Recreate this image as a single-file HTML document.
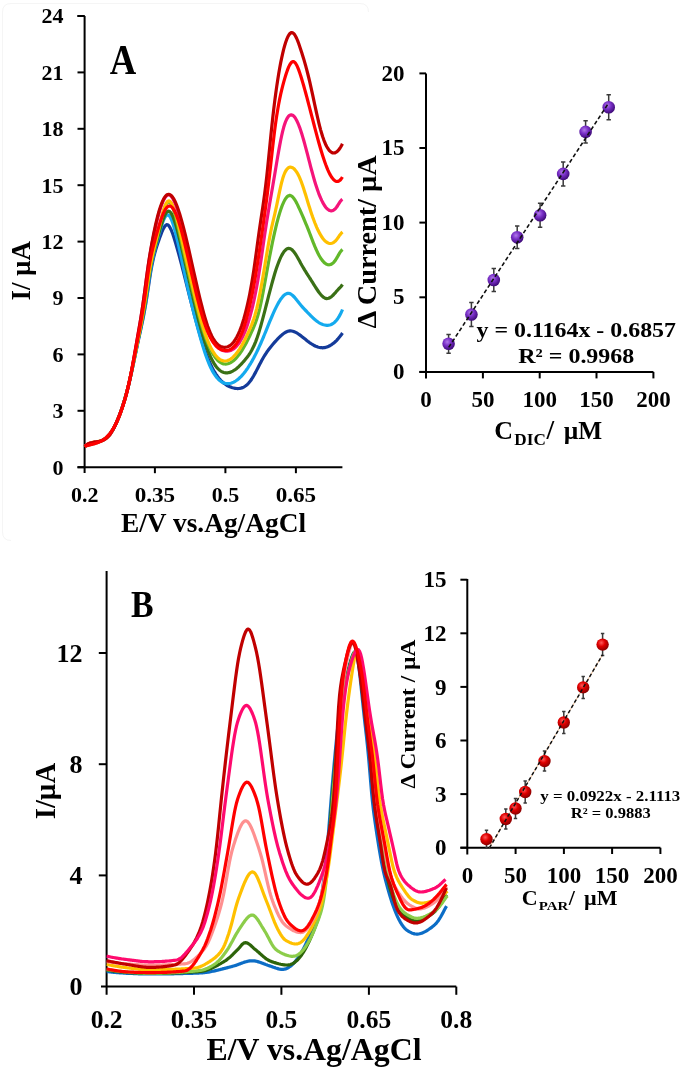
<!DOCTYPE html>
<html><head><meta charset="utf-8"><title>Figure</title>
<style>html,body{margin:0;padding:0;background:#fff;width:685px;height:1073px;overflow:hidden}svg{display:block;filter:blur(0.45px)}</style>
</head><body>
<svg width="685" height="1073" viewBox="0 0 685 1073">
<defs>
<radialGradient id="gp" cx="0.4" cy="0.35" r="0.65"><stop offset="0" stop-color="#b07ae8"/><stop offset="0.45" stop-color="#7a30c8"/><stop offset="1" stop-color="#3e0a78"/></radialGradient>
<radialGradient id="gr" cx="0.4" cy="0.35" r="0.65"><stop offset="0" stop-color="#ff5a5a"/><stop offset="0.45" stop-color="#e00000"/><stop offset="1" stop-color="#8a0000"/></radialGradient>
</defs>
<rect width="685" height="1073" fill="#fff"/>
<path d="M11 540.5Q2.5 540.5 2.5 532V12Q2.5 3.5 11 3.5H360Q368.5 3.5 368.5 12" fill="none" stroke="#f5f5f5" stroke-width="1"/>
<g stroke="#000" stroke-width="2" fill="none"><path d="M84.6 16V473M77.5 16H84.6" /><path d="M77.5 16.0H84.6"/><path d="M77.5 72.4H84.6"/><path d="M77.5 128.8H84.6"/><path d="M77.5 185.2H84.6"/><path d="M77.5 241.6H84.6"/><path d="M77.5 298.0H84.6"/><path d="M77.5 354.4H84.6"/><path d="M77.5 410.8H84.6"/><path d="M77.5 467.2H84.6"/><path d="M77.5 467.2H342.4"/><path d="M154.9 467.2V473.2"/><path d="M225.4 467.2V473.2"/><path d="M295.9 467.2V473.2"/></g>
<g font-family="Liberation Serif, serif" font-weight="bold" fill="#000" font-size="22"><text x="63.4" y="23.3" text-anchor="end">24</text><text x="63.4" y="79.7" text-anchor="end">21</text><text x="63.4" y="136.1" text-anchor="end">18</text><text x="63.4" y="192.5" text-anchor="end">15</text><text x="63.4" y="248.9" text-anchor="end">12</text><text x="63.4" y="305.3" text-anchor="end">9</text><text x="63.4" y="361.7" text-anchor="end">6</text><text x="63.4" y="418.1" text-anchor="end">3</text><text x="63.4" y="474.5" text-anchor="end">0</text><text x="84.7" y="501.8" text-anchor="middle">0.2</text><text x="154.9" y="501.8" text-anchor="middle" textLength="40.5" lengthAdjust="spacingAndGlyphs">0.35</text><text x="225.4" y="501.8" text-anchor="middle">0.5</text><text x="295.9" y="501.8" text-anchor="middle" textLength="40.5" lengthAdjust="spacingAndGlyphs">0.65</text></g>
<text font-family="Liberation Serif, serif" font-weight="bold" fill="#000" x="109.8" y="74" font-size="43" textLength="26.5" lengthAdjust="spacingAndGlyphs">A</text>
<text font-family="Liberation Serif, serif" font-weight="bold" fill="#000" font-size="27" x="121" y="531.6" textLength="185" lengthAdjust="spacingAndGlyphs">E/V vs.Ag/AgCl</text>
<text font-family="Liberation Serif, serif" font-weight="bold" fill="#000" font-size="26.5" transform="translate(29.8 300.5) rotate(-90)" textLength="59.5" lengthAdjust="spacingAndGlyphs">I/ µA</text>
<g fill="none" stroke-width="3.2" stroke-linejoin="round" stroke-linecap="butt"><path stroke="#143b9a" d="M84.7 446.4 L85.7 445.7 L86.7 445.0 L87.7 444.5 L88.7 444.0 L89.7 443.6 L90.7 443.3 L91.7 443.0 L92.7 442.8 L93.7 442.6 L94.7 442.4 L95.7 442.2 L96.7 442.0 L97.7 441.8 L98.7 441.6 L99.7 441.3 L100.7 441.0 L101.7 440.6 L102.7 440.2 L103.7 439.7 L104.7 439.1 L105.7 438.4 L106.7 437.6 L107.7 436.7 L108.7 435.7 L109.7 434.5 L110.7 433.2 L111.7 431.7 L112.7 430.1 L113.7 428.3 L114.7 426.4 L115.7 424.3 L116.7 422.1 L117.7 419.7 L118.7 417.3 L119.7 414.6 L120.7 411.9 L121.7 409.0 L122.7 405.9 L123.7 402.8 L124.7 399.4 L125.7 395.9 L126.7 392.3 L127.7 388.5 L128.7 384.5 L129.7 380.4 L130.7 376.0 L131.7 371.6 L132.7 367.0 L133.7 362.3 L134.7 357.6 L135.7 352.8 L136.7 348.1 L137.7 343.4 L138.7 338.7 L139.7 334.2 L140.7 329.6 L141.7 324.9 L142.7 320.1 L143.7 315.1 L144.7 309.8 L145.7 304.2 L146.7 298.0 L147.7 291.5 L148.7 284.9 L149.7 278.3 L150.7 272.1 L151.7 266.5 L152.7 261.6 L153.7 257.2 L154.7 253.3 L155.7 249.8 L156.7 246.6 L157.7 243.5 L158.7 240.7 L159.7 237.8 L160.7 235.1 L161.7 232.5 L162.7 230.1 L163.7 228.1 L164.7 226.4 L165.7 225.3 L166.7 224.7 L167.7 224.8 L168.7 225.6 L169.7 227.0 L170.7 228.9 L171.7 231.2 L172.7 233.8 L173.7 236.8 L174.7 239.9 L175.7 243.2 L176.7 246.7 L177.7 250.2 L178.7 253.8 L179.7 257.5 L180.7 261.3 L181.7 265.1 L182.7 269.0 L183.7 272.9 L184.7 276.9 L185.7 280.9 L186.7 284.8 L187.7 288.8 L188.7 292.8 L189.7 296.8 L190.7 300.7 L191.7 304.6 L192.7 308.4 L193.7 312.2 L194.7 316.0 L195.7 319.7 L196.7 323.4 L197.7 326.9 L198.7 330.4 L199.7 333.9 L200.7 337.2 L201.7 340.5 L202.7 343.6 L203.7 346.7 L204.7 349.6 L205.7 352.4 L206.7 355.2 L207.7 357.7 L208.7 360.2 L209.7 362.5 L210.7 364.7 L211.7 366.8 L212.7 368.7 L213.7 370.5 L214.7 372.2 L215.7 373.8 L216.7 375.3 L217.7 376.7 L218.7 378.0 L219.7 379.2 L220.7 380.3 L221.7 381.3 L222.7 382.2 L223.7 383.1 L224.7 383.8 L225.7 384.5 L226.7 385.2 L227.7 385.7 L228.7 386.3 L229.7 386.7 L230.7 387.1 L231.7 387.5 L232.7 387.8 L233.7 388.0 L234.7 388.3 L235.7 388.4 L236.7 388.5 L237.7 388.6 L238.7 388.5 L239.7 388.4 L240.7 388.2 L241.7 387.9 L242.7 387.6 L243.7 387.1 L244.7 386.5 L245.7 385.8 L246.7 385.0 L247.7 384.1 L248.7 383.0 L249.7 381.8 L250.7 380.5 L251.7 379.0 L252.7 377.4 L253.7 375.7 L254.7 373.9 L255.7 372.1 L256.7 370.1 L257.7 368.2 L258.7 366.2 L259.7 364.3 L260.7 362.4 L261.7 360.5 L262.7 358.7 L263.7 357.0 L264.7 355.4 L265.7 353.8 L266.7 352.3 L267.7 350.9 L268.7 349.5 L269.7 348.2 L270.7 346.9 L271.7 345.7 L272.7 344.5 L273.7 343.3 L274.7 342.2 L275.7 341.1 L276.7 340.0 L277.7 338.9 L278.7 337.9 L279.7 336.9 L280.7 336.0 L281.7 335.1 L282.7 334.2 L283.7 333.5 L284.7 332.8 L285.7 332.2 L286.7 331.7 L287.7 331.3 L288.7 331.1 L289.7 330.9 L290.7 330.9 L291.7 331.0 L292.7 331.2 L293.7 331.5 L294.7 331.9 L295.7 332.4 L296.7 332.9 L297.7 333.5 L298.7 334.2 L299.7 334.9 L300.7 335.6 L301.7 336.4 L302.7 337.2 L303.7 338.0 L304.7 338.8 L305.7 339.6 L306.7 340.4 L307.7 341.2 L308.7 341.9 L309.7 342.7 L310.7 343.4 L311.7 344.0 L312.7 344.6 L313.7 345.2 L314.7 345.7 L315.7 346.2 L316.7 346.6 L317.7 347.0 L318.7 347.3 L319.7 347.5 L320.7 347.7 L321.7 347.7 L322.7 347.8 L323.7 347.7 L324.7 347.6 L325.7 347.3 L326.7 347.1 L327.7 346.7 L328.7 346.3 L329.7 345.8 L330.7 345.2 L331.7 344.6 L332.7 343.8 L333.7 343.1 L334.7 342.2 L335.7 341.3 L336.7 340.3 L337.7 339.2 L338.7 338.0 L339.7 336.8 L340.7 335.5 L341.7 334.2 L342.5 333.0"/><path stroke="#14aaee" d="M84.7 446.4 L85.7 445.6 L86.7 445.0 L87.7 444.4 L88.7 444.0 L89.7 443.6 L90.7 443.2 L91.7 443.0 L92.7 442.7 L93.7 442.5 L94.7 442.3 L95.7 442.1 L96.7 442.0 L97.7 441.8 L98.7 441.5 L99.7 441.3 L100.7 441.0 L101.7 440.6 L102.7 440.2 L103.7 439.7 L104.7 439.1 L105.7 438.5 L106.7 437.7 L107.7 436.8 L108.7 435.7 L109.7 434.5 L110.7 433.2 L111.7 431.7 L112.7 430.1 L113.7 428.3 L114.7 426.3 L115.7 424.3 L116.7 422.0 L117.7 419.7 L118.7 417.2 L119.7 414.6 L120.7 411.9 L121.7 409.0 L122.7 406.0 L123.7 402.8 L124.7 399.5 L125.7 396.0 L126.7 392.4 L127.7 388.6 L128.7 384.6 L129.7 380.3 L130.7 375.9 L131.7 371.4 L132.7 366.7 L133.7 361.9 L134.7 357.0 L135.7 352.1 L136.7 347.3 L137.7 342.4 L138.7 337.7 L139.7 333.1 L140.7 328.4 L141.7 323.6 L142.7 318.7 L143.7 313.5 L144.7 307.9 L145.7 302.0 L146.7 295.5 L147.7 288.7 L148.7 281.8 L149.7 275.2 L150.7 269.0 L151.7 263.5 L152.7 258.7 L153.7 254.2 L154.7 250.2 L155.7 246.4 L156.7 242.8 L157.7 239.2 L158.7 235.6 L159.7 232.0 L160.7 228.6 L161.7 225.4 L162.7 222.4 L163.7 219.8 L164.7 217.7 L165.7 216.1 L166.7 215.1 L167.7 214.8 L168.7 215.2 L169.7 216.3 L170.7 218.0 L171.7 220.2 L172.7 223.0 L173.7 226.1 L174.7 229.6 L175.7 233.4 L176.7 237.5 L177.7 241.7 L178.7 246.0 L179.7 250.5 L180.7 255.0 L181.7 259.6 L182.7 264.3 L183.7 268.9 L184.7 273.6 L185.7 278.2 L186.7 282.8 L187.7 287.3 L188.7 291.8 L189.7 296.1 L190.7 300.3 L191.7 304.5 L192.7 308.6 L193.7 312.6 L194.7 316.5 L195.7 320.3 L196.7 324.1 L197.7 327.9 L198.7 331.5 L199.7 335.1 L200.7 338.7 L201.7 342.1 L202.7 345.5 L203.7 348.8 L204.7 351.9 L205.7 354.9 L206.7 357.7 L207.7 360.4 L208.7 362.9 L209.7 365.3 L210.7 367.5 L211.7 369.5 L212.7 371.4 L213.7 373.1 L214.7 374.6 L215.7 376.1 L216.7 377.4 L217.7 378.5 L218.7 379.6 L219.7 380.5 L220.7 381.2 L221.7 381.9 L222.7 382.5 L223.7 382.9 L224.7 383.2 L225.7 383.5 L226.7 383.6 L227.7 383.7 L228.7 383.6 L229.7 383.5 L230.7 383.3 L231.7 383.0 L232.7 382.6 L233.7 382.2 L234.7 381.6 L235.7 381.0 L236.7 380.3 L237.7 379.6 L238.7 378.7 L239.7 377.8 L240.7 376.9 L241.7 375.8 L242.7 374.7 L243.7 373.5 L244.7 372.2 L245.7 370.9 L246.7 369.5 L247.7 368.1 L248.7 366.5 L249.7 364.9 L250.7 363.3 L251.7 361.6 L252.7 359.8 L253.7 358.0 L254.7 356.1 L255.7 354.1 L256.7 352.1 L257.7 350.0 L258.7 347.9 L259.7 345.7 L260.7 343.5 L261.7 341.2 L262.7 338.8 L263.7 336.5 L264.7 334.0 L265.7 331.6 L266.7 329.1 L267.7 326.7 L268.7 324.2 L269.7 321.7 L270.7 319.3 L271.7 317.0 L272.7 314.6 L273.7 312.4 L274.7 310.2 L275.7 308.1 L276.7 306.1 L277.7 304.2 L278.7 302.4 L279.7 300.8 L280.7 299.2 L281.7 297.9 L282.7 296.7 L283.7 295.6 L284.7 294.8 L285.7 294.1 L286.7 293.6 L287.7 293.4 L288.7 293.4 L289.7 293.6 L290.7 294.0 L291.7 294.7 L292.7 295.5 L293.7 296.5 L294.7 297.5 L295.7 298.7 L296.7 300.0 L297.7 301.2 L298.7 302.5 L299.7 303.8 L300.7 305.0 L301.7 306.2 L302.7 307.3 L303.7 308.4 L304.7 309.5 L305.7 310.5 L306.7 311.5 L307.7 312.6 L308.7 313.6 L309.7 314.6 L310.7 315.7 L311.7 316.6 L312.7 317.6 L313.7 318.6 L314.7 319.4 L315.7 320.3 L316.7 321.1 L317.7 321.8 L318.7 322.5 L319.7 323.1 L320.7 323.6 L321.7 324.1 L322.7 324.5 L323.7 324.8 L324.7 325.0 L325.7 325.2 L326.7 325.3 L327.7 325.3 L328.7 325.2 L329.7 325.0 L330.7 324.7 L331.7 324.3 L332.7 323.7 L333.7 323.0 L334.7 322.2 L335.7 321.2 L336.7 320.0 L337.7 318.7 L338.7 317.2 L339.7 315.4 L340.7 313.5 L341.7 311.4 L342.5 309.5"/><path stroke="#3a7016" d="M84.7 446.4 L85.7 446.0 L86.7 445.6 L87.7 445.2 L88.7 444.9 L89.7 444.6 L90.7 444.4 L91.7 444.1 L92.7 443.8 L93.7 443.6 L94.7 443.3 L95.7 443.0 L96.7 442.7 L97.7 442.4 L98.7 442.0 L99.7 441.6 L100.7 441.2 L101.7 440.7 L102.7 440.1 L103.7 439.5 L104.7 438.8 L105.7 438.0 L106.7 437.1 L107.7 436.1 L108.7 435.1 L109.7 433.9 L110.7 432.6 L111.7 431.2 L112.7 429.7 L113.7 428.1 L114.7 426.3 L115.7 424.3 L116.7 422.2 L117.7 420.0 L118.7 417.6 L119.7 415.0 L120.7 412.2 L121.7 409.3 L122.7 406.2 L123.7 402.9 L124.7 399.5 L125.7 396.0 L126.7 392.3 L127.7 388.4 L128.7 384.3 L129.7 380.1 L130.7 375.6 L131.7 371.0 L132.7 366.2 L133.7 361.3 L134.7 356.4 L135.7 351.4 L136.7 346.5 L137.7 341.6 L138.7 336.8 L139.7 332.0 L140.7 327.2 L141.7 322.3 L142.7 317.1 L143.7 311.7 L144.7 305.8 L145.7 299.5 L146.7 292.6 L147.7 285.6 L148.7 278.6 L149.7 272.0 L150.7 266.1 L151.7 260.9 L152.7 256.2 L153.7 252.0 L154.7 248.2 L155.7 244.6 L156.7 241.0 L157.7 237.4 L158.7 233.8 L159.7 230.3 L160.7 226.8 L161.7 223.5 L162.7 220.5 L163.7 217.8 L164.7 215.4 L165.7 213.5 L166.7 212.1 L167.7 211.3 L168.7 211.2 L169.7 211.6 L170.7 212.6 L171.7 214.2 L172.7 216.2 L173.7 218.6 L174.7 221.4 L175.7 224.6 L176.7 228.0 L177.7 231.7 L178.7 235.6 L179.7 239.6 L180.7 243.7 L181.7 247.9 L182.7 252.2 L183.7 256.5 L184.7 260.9 L185.7 265.3 L186.7 269.7 L187.7 274.1 L188.7 278.6 L189.7 283.0 L190.7 287.4 L191.7 291.7 L192.7 296.0 L193.7 300.3 L194.7 304.5 L195.7 308.6 L196.7 312.6 L197.7 316.6 L198.7 320.5 L199.7 324.2 L200.7 327.9 L201.7 331.4 L202.7 334.8 L203.7 338.1 L204.7 341.2 L205.7 344.2 L206.7 347.1 L207.7 349.8 L208.7 352.4 L209.7 354.8 L210.7 357.1 L211.7 359.2 L212.7 361.1 L213.7 362.9 L214.7 364.5 L215.7 366.0 L216.7 367.3 L217.7 368.4 L218.7 369.4 L219.7 370.3 L220.7 371.0 L221.7 371.6 L222.7 372.1 L223.7 372.5 L224.7 372.7 L225.7 372.8 L226.7 372.9 L227.7 372.8 L228.7 372.6 L229.7 372.4 L230.7 372.1 L231.7 371.6 L232.7 371.1 L233.7 370.5 L234.7 369.9 L235.7 369.2 L236.7 368.4 L237.7 367.6 L238.7 366.7 L239.7 365.7 L240.7 364.7 L241.7 363.6 L242.7 362.5 L243.7 361.4 L244.7 360.2 L245.7 359.0 L246.7 357.8 L247.7 356.5 L248.7 355.1 L249.7 353.6 L250.7 352.0 L251.7 350.2 L252.7 348.3 L253.7 346.3 L254.7 344.0 L255.7 341.6 L256.7 338.9 L257.7 336.0 L258.7 332.9 L259.7 329.6 L260.7 326.2 L261.7 322.6 L262.7 318.9 L263.7 315.2 L264.7 311.3 L265.7 307.4 L266.7 303.5 L267.7 299.6 L268.7 295.7 L269.7 291.9 L270.7 288.1 L271.7 284.3 L272.7 280.7 L273.7 277.2 L274.7 273.8 L275.7 270.6 L276.7 267.6 L277.7 264.7 L278.7 262.1 L279.7 259.6 L280.7 257.4 L281.7 255.4 L282.7 253.6 L283.7 252.1 L284.7 250.8 L285.7 249.8 L286.7 249.0 L287.7 248.6 L288.7 248.4 L289.7 248.5 L290.7 248.9 L291.7 249.5 L292.7 250.5 L293.7 251.6 L294.7 252.9 L295.7 254.4 L296.7 256.0 L297.7 257.7 L298.7 259.5 L299.7 261.3 L300.7 263.2 L301.7 265.0 L302.7 266.7 L303.7 268.4 L304.7 270.1 L305.7 271.7 L306.7 273.3 L307.7 274.9 L308.7 276.4 L309.7 278.0 L310.7 279.5 L311.7 281.1 L312.7 282.7 L313.7 284.3 L314.7 285.9 L315.7 287.5 L316.7 289.0 L317.7 290.5 L318.7 292.0 L319.7 293.3 L320.7 294.5 L321.7 295.6 L322.7 296.6 L323.7 297.4 L324.7 298.0 L325.7 298.4 L326.7 298.6 L327.7 298.5 L328.7 298.3 L329.7 297.8 L330.7 297.2 L331.7 296.4 L332.7 295.5 L333.7 294.5 L334.7 293.4 L335.7 292.3 L336.7 291.1 L337.7 290.0 L338.7 288.9 L339.7 287.8 L340.7 286.8 L341.7 285.7 L342.5 284.5"/><path stroke="#62b82a" d="M84.7 446.4 L85.7 445.6 L86.7 445.0 L87.7 444.4 L88.7 443.9 L89.7 443.6 L90.7 443.2 L91.7 442.9 L92.7 442.7 L93.7 442.5 L94.7 442.3 L95.7 442.1 L96.7 441.9 L97.7 441.8 L98.7 441.5 L99.7 441.3 L100.7 441.0 L101.7 440.7 L102.7 440.2 L103.7 439.7 L104.7 439.2 L105.7 438.5 L106.7 437.7 L107.7 436.8 L108.7 435.7 L109.7 434.5 L110.7 433.2 L111.7 431.7 L112.7 430.1 L113.7 428.3 L114.7 426.3 L115.7 424.2 L116.7 422.0 L117.7 419.7 L118.7 417.2 L119.7 414.6 L120.7 411.9 L121.7 409.0 L122.7 406.0 L123.7 402.9 L124.7 399.6 L125.7 396.1 L126.7 392.4 L127.7 388.6 L128.7 384.5 L129.7 380.2 L130.7 375.7 L131.7 371.0 L132.7 366.2 L133.7 361.2 L134.7 356.2 L135.7 351.1 L136.7 345.9 L137.7 340.8 L138.7 335.7 L139.7 330.7 L140.7 325.5 L141.7 320.2 L142.7 314.7 L143.7 308.9 L144.7 302.8 L145.7 296.2 L146.7 289.3 L147.7 282.4 L148.7 275.8 L149.7 269.6 L150.7 264.2 L151.7 259.3 L152.7 254.8 L153.7 250.7 L154.7 246.8 L155.7 242.9 L156.7 238.9 L157.7 234.7 L158.7 230.4 L159.7 226.1 L160.7 221.9 L161.7 217.9 L162.7 214.1 L163.7 210.7 L164.7 207.7 L165.7 205.2 L166.7 203.4 L167.7 202.2 L168.7 201.8 L169.7 202.2 L170.7 203.3 L171.7 205.1 L172.7 207.4 L173.7 210.2 L174.7 213.4 L175.7 217.1 L176.7 221.0 L177.7 225.2 L178.7 229.6 L179.7 234.1 L180.7 238.6 L181.7 243.1 L182.7 247.6 L183.7 252.1 L184.7 256.5 L185.7 260.9 L186.7 265.2 L187.7 269.5 L188.7 273.8 L189.7 278.1 L190.7 282.3 L191.7 286.6 L192.7 290.8 L193.7 294.9 L194.7 299.1 L195.7 303.2 L196.7 307.2 L197.7 311.1 L198.7 315.0 L199.7 318.7 L200.7 322.3 L201.7 325.8 L202.7 329.2 L203.7 332.3 L204.7 335.3 L205.7 338.2 L206.7 340.8 L207.7 343.4 L208.7 345.7 L209.7 347.9 L210.7 350.0 L211.7 351.9 L212.7 353.6 L213.7 355.2 L214.7 356.7 L215.7 358.0 L216.7 359.2 L217.7 360.3 L218.7 361.2 L219.7 362.0 L220.7 362.6 L221.7 363.2 L222.7 363.6 L223.7 363.9 L224.7 364.0 L225.7 364.1 L226.7 364.0 L227.7 363.8 L228.7 363.5 L229.7 363.1 L230.7 362.6 L231.7 362.0 L232.7 361.3 L233.7 360.5 L234.7 359.6 L235.7 358.6 L236.7 357.5 L237.7 356.3 L238.7 355.1 L239.7 353.7 L240.7 352.3 L241.7 350.8 L242.7 349.2 L243.7 347.5 L244.7 345.8 L245.7 343.9 L246.7 342.1 L247.7 340.1 L248.7 338.1 L249.7 336.0 L250.7 333.9 L251.7 331.7 L252.7 329.5 L253.7 327.2 L254.7 324.7 L255.7 322.1 L256.7 319.2 L257.7 316.1 L258.7 312.5 L259.7 308.6 L260.7 304.2 L261.7 299.4 L262.7 294.3 L263.7 289.0 L264.7 283.5 L265.7 278.0 L266.7 272.4 L267.7 266.9 L268.7 261.5 L269.7 256.2 L270.7 251.1 L271.7 246.1 L272.7 241.2 L273.7 236.6 L274.7 232.1 L275.7 227.8 L276.7 223.7 L277.7 219.9 L278.7 216.2 L279.7 212.9 L280.7 209.7 L281.7 206.9 L282.7 204.3 L283.7 202.1 L284.7 200.1 L285.7 198.5 L286.7 197.2 L287.7 196.2 L288.7 195.7 L289.7 195.4 L290.7 195.6 L291.7 196.1 L292.7 197.0 L293.7 198.2 L294.7 199.6 L295.7 201.3 L296.7 203.1 L297.7 205.1 L298.7 207.3 L299.7 209.4 L300.7 211.7 L301.7 213.9 L302.7 216.2 L303.7 218.5 L304.7 220.9 L305.7 223.3 L306.7 225.7 L307.7 228.2 L308.7 230.7 L309.7 233.3 L310.7 235.9 L311.7 238.5 L312.7 241.1 L313.7 243.7 L314.7 246.1 L315.7 248.5 L316.7 250.7 L317.7 252.8 L318.7 254.7 L319.7 256.5 L320.7 258.2 L321.7 259.6 L322.7 260.9 L323.7 262.0 L324.7 263.0 L325.7 263.7 L326.7 264.3 L327.7 264.6 L328.7 264.8 L329.7 264.7 L330.7 264.5 L331.7 264.0 L332.7 263.3 L333.7 262.3 L334.7 261.2 L335.7 259.8 L336.7 258.1 L337.7 256.4 L338.7 254.6 L339.7 252.9 L340.7 251.4 L341.7 250.2 L342.5 249.5"/><path stroke="#ffc000" d="M84.7 446.4 L85.7 445.5 L86.7 444.8 L87.7 444.1 L88.7 443.6 L89.7 443.2 L90.7 442.8 L91.7 442.5 L92.7 442.3 L93.7 442.1 L94.7 442.0 L95.7 441.9 L96.7 441.7 L97.7 441.6 L98.7 441.4 L99.7 441.3 L100.7 441.0 L101.7 440.7 L102.7 440.4 L103.7 439.9 L104.7 439.4 L105.7 438.7 L106.7 437.9 L107.7 437.0 L108.7 435.9 L109.7 434.7 L110.7 433.3 L111.7 431.7 L112.7 430.0 L113.7 428.1 L114.7 426.1 L115.7 424.0 L116.7 421.8 L117.7 419.4 L118.7 417.0 L119.7 414.5 L120.7 411.9 L121.7 409.2 L122.7 406.3 L123.7 403.3 L124.7 400.0 L125.7 396.4 L126.7 392.6 L127.7 388.6 L128.7 384.4 L129.7 380.0 L130.7 375.4 L131.7 370.7 L132.7 365.9 L133.7 361.0 L134.7 356.0 L135.7 351.0 L136.7 345.9 L137.7 340.9 L138.7 335.8 L139.7 330.7 L140.7 325.6 L141.7 320.2 L142.7 314.7 L143.7 308.9 L144.7 302.7 L145.7 296.2 L146.7 289.4 L147.7 282.5 L148.7 275.8 L149.7 269.6 L150.7 264.0 L151.7 259.0 L152.7 254.4 L153.7 250.0 L154.7 245.9 L155.7 241.8 L156.7 237.6 L157.7 233.3 L158.7 229.0 L159.7 224.7 L160.7 220.6 L161.7 216.6 L162.7 212.9 L163.7 209.6 L164.7 206.7 L165.7 204.3 L166.7 202.5 L167.7 201.3 L168.7 200.9 L169.7 201.1 L170.7 202.0 L171.7 203.5 L172.7 205.5 L173.7 208.0 L174.7 210.9 L175.7 214.3 L176.7 217.9 L177.7 221.8 L178.7 225.9 L179.7 230.2 L180.7 234.6 L181.7 239.1 L182.7 243.5 L183.7 248.0 L184.7 252.4 L185.7 256.8 L186.7 261.2 L187.7 265.5 L188.7 269.9 L189.7 274.2 L190.7 278.5 L191.7 282.8 L192.7 287.0 L193.7 291.3 L194.7 295.5 L195.7 299.6 L196.7 303.7 L197.7 307.7 L198.7 311.6 L199.7 315.4 L200.7 319.1 L201.7 322.7 L202.7 326.1 L203.7 329.4 L204.7 332.5 L205.7 335.4 L206.7 338.1 L207.7 340.7 L208.7 343.1 L209.7 345.4 L210.7 347.5 L211.7 349.4 L212.7 351.1 L213.7 352.7 L214.7 354.2 L215.7 355.5 L216.7 356.7 L217.7 357.7 L218.7 358.6 L219.7 359.3 L220.7 359.9 L221.7 360.4 L222.7 360.7 L223.7 360.9 L224.7 361.0 L225.7 361.0 L226.7 360.8 L227.7 360.5 L228.7 360.1 L229.7 359.6 L230.7 359.0 L231.7 358.2 L232.7 357.4 L233.7 356.5 L234.7 355.4 L235.7 354.3 L236.7 353.0 L237.7 351.7 L238.7 350.3 L239.7 348.8 L240.7 347.2 L241.7 345.5 L242.7 343.7 L243.7 341.9 L244.7 340.0 L245.7 338.0 L246.7 335.9 L247.7 333.8 L248.7 331.6 L249.7 329.4 L250.7 327.0 L251.7 324.6 L252.7 321.9 L253.7 319.1 L254.7 315.9 L255.7 312.4 L256.7 308.6 L257.7 304.3 L258.7 299.6 L259.7 294.6 L260.7 289.4 L261.7 283.8 L262.7 278.1 L263.7 272.2 L264.7 266.2 L265.7 260.2 L266.7 254.2 L267.7 248.3 L268.7 242.6 L269.7 237.1 L270.7 232.0 L271.7 227.2 L272.7 222.8 L273.7 218.5 L274.7 214.3 L275.7 209.9 L276.7 205.3 L277.7 200.4 L278.7 195.6 L279.7 190.8 L280.7 186.3 L281.7 182.2 L282.7 178.6 L283.7 175.5 L284.7 173.0 L285.7 171.0 L286.7 169.5 L287.7 168.4 L288.7 167.6 L289.7 167.2 L290.7 167.2 L291.7 167.4 L292.7 167.8 L293.7 168.5 L294.7 169.5 L295.7 170.7 L296.7 172.1 L297.7 173.8 L298.7 175.7 L299.7 177.9 L300.7 180.3 L301.7 182.9 L302.7 185.8 L303.7 188.8 L304.7 191.9 L305.7 195.1 L306.7 198.4 L307.7 201.7 L308.7 204.9 L309.7 208.1 L310.7 211.2 L311.7 214.2 L312.7 217.1 L313.7 219.8 L314.7 222.5 L315.7 224.9 L316.7 227.3 L317.7 229.5 L318.7 231.5 L319.7 233.4 L320.7 235.2 L321.7 236.8 L322.7 238.2 L323.7 239.5 L324.7 240.6 L325.7 241.5 L326.7 242.3 L327.7 242.8 L328.7 243.2 L329.7 243.5 L330.7 243.5 L331.7 243.3 L332.7 243.0 L333.7 242.4 L334.7 241.6 L335.7 240.7 L336.7 239.5 L337.7 238.1 L338.7 236.7 L339.7 235.2 L340.7 233.9 L341.7 232.7 L342.5 232.0"/><path stroke="#f5147a" d="M84.7 446.4 L85.7 445.6 L86.7 444.8 L87.7 444.2 L88.7 443.7 L89.7 443.3 L90.7 443.0 L91.7 442.7 L92.7 442.5 L93.7 442.3 L94.7 442.1 L95.7 442.0 L96.7 441.8 L97.7 441.7 L98.7 441.5 L99.7 441.3 L100.7 441.0 L101.7 440.7 L102.7 440.3 L103.7 439.8 L104.7 439.3 L105.7 438.6 L106.7 437.8 L107.7 436.9 L108.7 435.9 L109.7 434.7 L110.7 433.3 L111.7 431.7 L112.7 430.0 L113.7 428.2 L114.7 426.2 L115.7 424.1 L116.7 421.9 L117.7 419.5 L118.7 417.0 L119.7 414.5 L120.7 411.8 L121.7 409.1 L122.7 406.2 L123.7 403.1 L124.7 399.9 L125.7 396.5 L126.7 392.8 L127.7 388.9 L128.7 384.6 L129.7 380.1 L130.7 375.2 L131.7 370.1 L132.7 364.7 L133.7 359.1 L134.7 353.5 L135.7 347.7 L136.7 342.0 L137.7 336.3 L138.7 330.6 L139.7 324.8 L140.7 318.9 L141.7 312.6 L142.7 306.1 L143.7 299.1 L144.7 291.6 L145.7 283.9 L146.7 276.3 L147.7 269.1 L148.7 262.5 L149.7 256.4 L150.7 250.7 L151.7 245.4 L152.7 240.3 L153.7 235.4 L154.7 230.7 L155.7 226.3 L156.7 222.0 L157.7 218.0 L158.7 214.2 L159.7 210.7 L160.7 207.5 L161.7 204.7 L162.7 202.1 L163.7 199.9 L164.7 198.1 L165.7 196.6 L166.7 195.6 L167.7 195.0 L168.7 194.8 L169.7 195.1 L170.7 195.7 L171.7 196.8 L172.7 198.3 L173.7 200.1 L174.7 202.2 L175.7 204.7 L176.7 207.4 L177.7 210.4 L178.7 213.6 L179.7 217.1 L180.7 220.7 L181.7 224.5 L182.7 228.4 L183.7 232.5 L184.7 236.6 L185.7 240.8 L186.7 245.1 L187.7 249.4 L188.7 253.8 L189.7 258.2 L190.7 262.6 L191.7 267.0 L192.7 271.4 L193.7 275.8 L194.7 280.1 L195.7 284.4 L196.7 288.7 L197.7 293.0 L198.7 297.1 L199.7 301.2 L200.7 305.2 L201.7 309.1 L202.7 312.8 L203.7 316.5 L204.7 319.9 L205.7 323.2 L206.7 326.3 L207.7 329.2 L208.7 331.9 L209.7 334.3 L210.7 336.6 L211.7 338.6 L212.7 340.5 L213.7 342.2 L214.7 343.7 L215.7 345.0 L216.7 346.2 L217.7 347.2 L218.7 348.1 L219.7 348.8 L220.7 349.5 L221.7 350.0 L222.7 350.4 L223.7 350.7 L224.7 350.9 L225.7 351.1 L226.7 351.1 L227.7 351.1 L228.7 351.0 L229.7 350.7 L230.7 350.4 L231.7 350.0 L232.7 349.4 L233.7 348.8 L234.7 348.0 L235.7 347.1 L236.7 346.0 L237.7 344.8 L238.7 343.5 L239.7 342.0 L240.7 340.3 L241.7 338.5 L242.7 336.6 L243.7 334.4 L244.7 332.1 L245.7 329.6 L246.7 326.9 L247.7 324.0 L248.7 320.8 L249.7 317.5 L250.7 313.9 L251.7 310.1 L252.7 306.0 L253.7 301.6 L254.7 296.9 L255.7 291.9 L256.7 286.7 L257.7 281.1 L258.7 275.1 L259.7 268.8 L260.7 262.2 L261.7 255.4 L262.7 248.4 L263.7 241.4 L264.7 234.6 L265.7 227.9 L266.7 221.5 L267.7 215.4 L268.7 209.4 L269.7 203.5 L270.7 197.7 L271.7 191.9 L272.7 186.2 L273.7 180.3 L274.7 174.4 L275.7 168.4 L276.7 162.4 L277.7 156.6 L278.7 150.9 L279.7 145.4 L280.7 140.2 L281.7 135.5 L282.7 131.1 L283.7 127.3 L284.7 124.1 L285.7 121.3 L286.7 119.1 L287.7 117.4 L288.7 116.1 L289.7 115.3 L290.7 114.9 L291.7 114.9 L292.7 115.3 L293.7 116.1 L294.7 117.2 L295.7 118.7 L296.7 120.5 L297.7 122.6 L298.7 125.0 L299.7 127.6 L300.7 130.5 L301.7 133.6 L302.7 136.9 L303.7 140.3 L304.7 143.9 L305.7 147.6 L306.7 151.4 L307.7 155.2 L308.7 159.1 L309.7 162.9 L310.7 166.8 L311.7 170.5 L312.7 174.2 L313.7 177.8 L314.7 181.2 L315.7 184.5 L316.7 187.6 L317.7 190.5 L318.7 193.3 L319.7 195.8 L320.7 198.2 L321.7 200.4 L322.7 202.4 L323.7 204.2 L324.7 205.8 L325.7 207.2 L326.7 208.4 L327.7 209.3 L328.7 210.0 L329.7 210.5 L330.7 210.8 L331.7 210.8 L332.7 210.6 L333.7 210.1 L334.7 209.3 L335.7 208.3 L336.7 207.0 L337.7 205.5 L338.7 203.9 L339.7 202.3 L340.7 200.9 L341.7 199.7 L342.4 199.2"/><path stroke="#c00000" d="M84.7 446.4 L85.7 445.6 L86.7 444.8 L87.7 444.2 L88.7 443.7 L89.7 443.3 L90.7 443.0 L91.7 442.7 L92.7 442.5 L93.7 442.3 L94.7 442.1 L95.7 442.0 L96.7 441.8 L97.7 441.7 L98.7 441.5 L99.7 441.3 L100.7 441.0 L101.7 440.7 L102.7 440.3 L103.7 439.8 L104.7 439.3 L105.7 438.6 L106.7 437.8 L107.7 436.9 L108.7 435.9 L109.7 434.7 L110.7 433.3 L111.7 431.7 L112.7 430.0 L113.7 428.2 L114.7 426.2 L115.7 424.1 L116.7 421.9 L117.7 419.5 L118.7 417.0 L119.7 414.5 L120.7 411.8 L121.7 409.1 L122.7 406.2 L123.7 403.1 L124.7 399.9 L125.7 396.5 L126.7 392.8 L127.7 388.9 L128.7 384.6 L129.7 380.1 L130.7 375.2 L131.7 370.1 L132.7 364.7 L133.7 359.2 L134.7 353.5 L135.7 347.7 L136.7 342.0 L137.7 336.3 L138.7 330.6 L139.7 324.8 L140.7 318.8 L141.7 312.6 L142.7 306.0 L143.7 299.1 L144.7 291.7 L145.7 284.0 L146.7 276.4 L147.7 269.1 L148.7 262.3 L149.7 255.8 L150.7 249.8 L151.7 244.1 L152.7 238.7 L153.7 233.6 L154.7 228.8 L155.7 224.2 L156.7 220.0 L157.7 216.0 L158.7 212.3 L159.7 209.0 L160.7 206.0 L161.7 203.3 L162.7 200.9 L163.7 198.9 L164.7 197.2 L165.7 195.9 L166.7 195.0 L167.7 194.5 L168.7 194.3 L169.7 194.5 L170.7 195.1 L171.7 196.0 L172.7 197.3 L173.7 198.9 L174.7 200.7 L175.7 202.9 L176.7 205.3 L177.7 208.0 L178.7 210.9 L179.7 214.0 L180.7 217.4 L181.7 220.9 L182.7 224.6 L183.7 228.4 L184.7 232.4 L185.7 236.4 L186.7 240.6 L187.7 244.9 L188.7 249.2 L189.7 253.6 L190.7 258.1 L191.7 262.5 L192.7 267.0 L193.7 271.5 L194.7 275.9 L195.7 280.4 L196.7 284.7 L197.7 289.1 L198.7 293.3 L199.7 297.5 L200.7 301.6 L201.7 305.5 L202.7 309.4 L203.7 313.1 L204.7 316.6 L205.7 320.0 L206.7 323.2 L207.7 326.2 L208.7 328.9 L209.7 331.5 L210.7 333.8 L211.7 335.9 L212.7 337.8 L213.7 339.5 L214.7 341.0 L215.7 342.4 L216.7 343.5 L217.7 344.5 L218.7 345.3 L219.7 346.0 L220.7 346.5 L221.7 346.9 L222.7 347.1 L223.7 347.3 L224.7 347.3 L225.7 347.2 L226.7 347.0 L227.7 346.7 L228.7 346.3 L229.7 345.7 L230.7 345.0 L231.7 344.1 L232.7 343.1 L233.7 341.9 L234.7 340.5 L235.7 338.9 L236.7 337.2 L237.7 335.3 L238.7 333.1 L239.7 330.8 L240.7 328.2 L241.7 325.5 L242.7 322.4 L243.7 319.2 L244.7 315.7 L245.7 312.0 L246.7 308.0 L247.7 303.7 L248.7 299.1 L249.7 294.2 L250.7 288.9 L251.7 283.3 L252.7 277.3 L253.7 270.9 L254.7 264.0 L255.7 256.8 L256.7 249.4 L257.7 242.0 L258.7 234.7 L259.7 227.7 L260.7 220.9 L261.7 214.3 L262.7 207.7 L263.7 200.8 L264.7 193.4 L265.7 185.5 L266.7 176.9 L267.7 167.4 L268.7 157.5 L269.7 147.3 L270.7 137.2 L271.7 127.5 L272.7 118.2 L273.7 109.5 L274.7 101.4 L275.7 93.7 L276.7 86.6 L277.7 79.9 L278.7 73.7 L279.7 67.9 L280.7 62.6 L281.7 57.8 L282.7 53.3 L283.7 49.2 L284.7 45.5 L285.7 42.3 L286.7 39.4 L287.7 37.1 L288.7 35.2 L289.7 33.8 L290.7 32.9 L291.7 32.6 L292.7 32.8 L293.7 33.5 L294.7 34.8 L295.7 36.5 L296.7 38.5 L297.7 40.9 L298.7 43.5 L299.7 46.4 L300.7 49.4 L301.7 52.5 L302.7 55.7 L303.7 58.9 L304.7 62.4 L305.7 65.9 L306.7 69.6 L307.7 73.5 L308.7 77.5 L309.7 81.7 L310.7 86.1 L311.7 90.6 L312.7 95.2 L313.7 99.8 L314.7 104.5 L315.7 109.1 L316.7 113.6 L317.7 118.0 L318.7 122.3 L319.7 126.3 L320.7 130.1 L321.7 133.5 L322.7 136.7 L323.7 139.6 L324.7 142.2 L325.7 144.5 L326.7 146.5 L327.7 148.2 L328.7 149.7 L329.7 150.9 L330.7 151.8 L331.7 152.5 L332.7 152.9 L333.7 153.0 L334.7 152.9 L335.7 152.5 L336.7 151.9 L337.7 151.0 L338.7 149.9 L339.7 148.6 L340.7 147.0 L341.7 145.2 L342.4 143.8"/><path stroke="#ff0000" d="M84.7 446.4 L85.7 446.0 L86.7 445.7 L87.7 445.4 L88.7 445.1 L89.7 444.9 L90.7 444.6 L91.7 444.4 L92.7 444.1 L93.7 443.9 L94.7 443.6 L95.7 443.3 L96.7 442.9 L97.7 442.6 L98.7 442.2 L99.7 441.8 L100.7 441.3 L101.7 440.7 L102.7 440.1 L103.7 439.5 L104.7 438.7 L105.7 437.9 L106.7 437.0 L107.7 436.0 L108.7 434.9 L109.7 433.7 L110.7 432.4 L111.7 431.0 L112.7 429.5 L113.7 427.9 L114.7 426.1 L115.7 424.2 L116.7 422.1 L117.7 419.9 L118.7 417.6 L119.7 415.1 L120.7 412.4 L121.7 409.5 L122.7 406.5 L123.7 403.3 L124.7 399.9 L125.7 396.3 L126.7 392.5 L127.7 388.5 L128.7 384.2 L129.7 379.7 L130.7 375.0 L131.7 370.1 L132.7 365.0 L133.7 359.8 L134.7 354.6 L135.7 349.3 L136.7 344.0 L137.7 338.7 L138.7 333.5 L139.7 328.2 L140.7 322.8 L141.7 317.2 L142.7 311.2 L143.7 304.8 L144.7 297.9 L145.7 290.5 L146.7 283.0 L147.7 275.7 L148.7 268.9 L149.7 262.9 L150.7 257.7 L151.7 253.0 L152.7 248.7 L153.7 244.8 L154.7 241.1 L155.7 237.4 L156.7 233.8 L157.7 230.3 L158.7 226.9 L159.7 223.6 L160.7 220.5 L161.7 217.7 L162.7 215.0 L163.7 212.7 L164.7 210.6 L165.7 208.9 L166.7 207.6 L167.7 206.6 L168.7 206.1 L169.7 206.0 L170.7 206.3 L171.7 207.0 L172.7 208.1 L173.7 209.6 L174.7 211.4 L175.7 213.5 L176.7 215.9 L177.7 218.6 L178.7 221.5 L179.7 224.7 L180.7 228.1 L181.7 231.6 L182.7 235.4 L183.7 239.3 L184.7 243.4 L185.7 247.5 L186.7 251.8 L187.7 256.1 L188.7 260.5 L189.7 264.9 L190.7 269.4 L191.7 273.8 L192.7 278.2 L193.7 282.6 L194.7 286.9 L195.7 291.2 L196.7 295.3 L197.7 299.3 L198.7 303.2 L199.7 307.0 L200.7 310.6 L201.7 314.1 L202.7 317.5 L203.7 320.7 L204.7 323.7 L205.7 326.6 L206.7 329.3 L207.7 331.8 L208.7 334.1 L209.7 336.2 L210.7 338.2 L211.7 339.9 L212.7 341.6 L213.7 343.0 L214.7 344.3 L215.7 345.5 L216.7 346.5 L217.7 347.4 L218.7 348.2 L219.7 348.9 L220.7 349.4 L221.7 349.8 L222.7 350.1 L223.7 350.3 L224.7 350.5 L225.7 350.5 L226.7 350.5 L227.7 350.3 L228.7 350.1 L229.7 349.7 L230.7 349.2 L231.7 348.6 L232.7 347.8 L233.7 346.9 L234.7 345.9 L235.7 344.6 L236.7 343.2 L237.7 341.6 L238.7 339.9 L239.7 337.9 L240.7 335.7 L241.7 333.3 L242.7 330.7 L243.7 327.9 L244.7 324.8 L245.7 321.5 L246.7 317.9 L247.7 314.1 L248.7 310.0 L249.7 305.8 L250.7 301.2 L251.7 296.4 L252.7 291.4 L253.7 286.1 L254.7 280.5 L255.7 274.7 L256.7 268.6 L257.7 262.2 L258.7 255.7 L259.7 248.9 L260.7 242.0 L261.7 235.1 L262.7 228.0 L263.7 220.9 L264.7 213.7 L265.7 206.3 L266.7 198.7 L267.7 190.7 L268.7 182.5 L269.7 173.8 L270.7 164.8 L271.7 155.8 L272.7 146.8 L273.7 138.2 L274.7 130.1 L275.7 122.6 L276.7 115.8 L277.7 109.7 L278.7 104.0 L279.7 98.9 L280.7 94.2 L281.7 89.9 L282.7 85.9 L283.7 82.1 L284.7 78.6 L285.7 75.3 L286.7 72.2 L287.7 69.4 L288.7 66.9 L289.7 64.9 L290.7 63.3 L291.7 62.2 L292.7 61.6 L293.7 61.7 L294.7 62.3 L295.7 63.5 L296.7 65.2 L297.7 67.4 L298.7 69.9 L299.7 72.7 L300.7 75.7 L301.7 79.0 L302.7 82.4 L303.7 85.8 L304.7 89.4 L305.7 93.0 L306.7 96.7 L307.7 100.5 L308.7 104.3 L309.7 108.1 L310.7 112.0 L311.7 115.8 L312.7 119.7 L313.7 123.5 L314.7 127.4 L315.7 131.1 L316.7 134.9 L317.7 138.6 L318.7 142.2 L319.7 145.7 L320.7 149.2 L321.7 152.5 L322.7 155.7 L323.7 158.8 L324.7 161.7 L325.7 164.5 L326.7 167.1 L327.7 169.6 L328.7 171.8 L329.7 173.9 L330.7 175.7 L331.7 177.3 L332.7 178.6 L333.7 179.8 L334.7 180.6 L335.7 181.2 L336.7 181.5 L337.7 181.4 L338.7 181.1 L339.7 180.5 L340.7 179.5 L341.7 178.1 L342.4 177.0"/></g>
<g stroke="#000" stroke-width="2" fill="none"><path d="M426 73.4V378.4M419.4 371.9H653.4"/><path d="M419.4 371.9H426"/><path d="M419.4 297.3H426"/><path d="M419.4 222.6H426"/><path d="M419.4 148.0H426"/><path d="M419.4 73.4H426"/><path d="M482.9 371.9V378.4"/><path d="M539.7 371.9V378.4"/><path d="M596.5 371.9V378.4"/><path d="M653.4 371.9V378.4"/></g>
<g font-family="Liberation Serif, serif" font-weight="bold" fill="#000" font-size="23"><text x="404.6" y="379.0" text-anchor="end">0</text><text x="404.6" y="304.4" text-anchor="end">5</text><text x="404.6" y="229.7" text-anchor="end">10</text><text x="404.6" y="155.1" text-anchor="end">15</text><text x="404.6" y="80.5" text-anchor="end">20</text><text x="426.0" y="406.8" text-anchor="middle">0</text><text x="482.9" y="406.8" text-anchor="middle">50</text><text x="539.7" y="406.8" text-anchor="middle">100</text><text x="596.5" y="406.8" text-anchor="middle">150</text><text x="653.4" y="406.8" text-anchor="middle">200</text></g>
<g stroke="#3a3a3a" stroke-width="1.5" fill="none"><path d="M448.6 334.4V353.2M446.4 334.4H450.8M446.4 353.2H450.8"/><path d="M471.4 302.5V326.5M469.2 302.5H473.6M469.2 326.5H473.6"/><path d="M493.8 268.5V291.5M491.6 268.5H496.0M491.6 291.5H496.0"/><path d="M517.2 226.1V248.5M515.0 226.1H519.4M515.0 248.5H519.4"/><path d="M540.1 203.3V227.3M537.9 203.3H542.3M537.9 227.3H542.3"/><path d="M563.2 161.9V185.9M561.0 161.9H565.4M561.0 185.9H565.4"/><path d="M585.6 120.7V143.1M583.4 120.7H587.8M583.4 143.1H587.8"/><path d="M608.7 94.8V119.8M606.5 94.8H610.9M606.5 119.8H610.9"/></g>
<circle cx="448.6" cy="343.8" r="6.3" fill="url(#gp)"/><circle cx="471.4" cy="314.5" r="6.3" fill="url(#gp)"/><circle cx="493.8" cy="280.0" r="6.3" fill="url(#gp)"/><circle cx="517.2" cy="237.3" r="6.3" fill="url(#gp)"/><circle cx="540.1" cy="215.3" r="6.3" fill="url(#gp)"/><circle cx="563.2" cy="173.9" r="6.3" fill="url(#gp)"/><circle cx="585.6" cy="131.9" r="6.3" fill="url(#gp)"/><circle cx="608.7" cy="107.3" r="6.3" fill="url(#gp)"/>
<path d="M448.7 347.4L607.9 104.1" stroke="#111" stroke-width="1.6" stroke-dasharray="4 2.5" fill="none"/>
<text font-family="Liberation Serif, serif" font-weight="bold" fill="#000" font-size="21.5" x="476.5" y="337.3" textLength="199.5" lengthAdjust="spacingAndGlyphs">y = 0.1164x - 0.6857</text>
<text font-family="Liberation Serif, serif" font-weight="bold" fill="#000" font-size="21.5" x="518.3" y="363" textLength="116" lengthAdjust="spacingAndGlyphs">R² = 0.9968</text>
<text font-family="Liberation Serif, serif" font-weight="bold" fill="#000" font-size="27.5" transform="translate(375.6 328.4) rotate(-90)" textLength="173" lengthAdjust="spacingAndGlyphs">Δ Current/ µA</text>
<text font-family="Liberation Serif, serif" font-weight="bold" fill="#000" font-size="26" x="494.3" y="438.8">C</text>
<text font-family="Liberation Serif, serif" font-weight="bold" fill="#000" font-size="17" x="514.3" y="444.9" textLength="31.5" lengthAdjust="spacingAndGlyphs">DIC</text>
<text font-family="Liberation Serif, serif" font-weight="bold" fill="#000" font-size="27.5" x="546.6" y="438.8">/</text>
<text font-family="Liberation Serif, serif" font-weight="bold" fill="#000" font-size="26" x="563.8" y="438.8" textLength="38.4" lengthAdjust="spacingAndGlyphs">µM</text>
<g stroke="#000" stroke-width="2" fill="none"><path d="M106.6 571V994.8M101 986.6H456.3"/><path d="M98.8 875.4H106.6"/><path d="M98.8 764.2H106.6"/><path d="M98.8 653.0H106.6"/><path d="M194.0 986.6V994.8"/><path d="M281.4 986.6V994.8"/><path d="M368.9 986.6V994.8"/><path d="M456.3 986.6V994.8"/></g>
<g font-family="Liberation Serif, serif" font-weight="bold" fill="#000" font-size="26" ><text x="82.4" y="995.4" text-anchor="end">0</text><text x="82.4" y="884.2" text-anchor="end">4</text><text x="82.4" y="773.0" text-anchor="end">8</text><text x="82.4" y="661.8" text-anchor="end">12</text></g>
<g font-family="Liberation Serif, serif" font-weight="bold" fill="#000" font-size="25.5"><text x="106.6" y="1028" text-anchor="middle">0.2</text><text x="194.0" y="1028" text-anchor="middle" textLength="46.5" lengthAdjust="spacingAndGlyphs">0.35</text><text x="281.4" y="1028" text-anchor="middle">0.5</text><text x="368.9" y="1028" text-anchor="middle">0.65</text><text x="456.3" y="1028" text-anchor="middle">0.8</text></g>
<text font-family="Liberation Serif, serif" font-weight="bold" fill="#000" x="131" y="616.5" font-size="37" textLength="22.6" lengthAdjust="spacingAndGlyphs">B</text>
<text font-family="Liberation Serif, serif" font-weight="bold" fill="#000" font-size="31.5" x="206.5" y="1060.3" textLength="215" lengthAdjust="spacingAndGlyphs">E/V vs.Ag/AgCl</text>
<text font-family="Liberation Serif, serif" font-weight="bold" fill="#000" font-size="28.5" transform="translate(55.3 819.3) rotate(-90)" textLength="56.5" lengthAdjust="spacingAndGlyphs">I/µA</text>
<g fill="none" stroke-width="3.2" stroke-linejoin="round"><path stroke="#0c6dc6" d="M106.6 971.6 L107.6 971.6 L108.6 971.7 L109.6 971.8 L110.6 971.9 L111.6 972.1 L112.6 972.2 L113.6 972.3 L114.6 972.4 L115.6 972.5 L116.6 972.6 L117.6 972.6 L118.6 972.7 L119.6 972.8 L120.6 972.9 L121.6 973.0 L122.6 973.0 L123.6 973.1 L124.6 973.2 L125.6 973.2 L126.6 973.3 L127.6 973.3 L128.6 973.4 L129.6 973.4 L130.6 973.5 L131.6 973.5 L132.6 973.5 L133.6 973.6 L134.6 973.6 L135.6 973.7 L136.6 973.7 L137.6 973.7 L138.6 973.8 L139.6 973.8 L140.6 973.8 L141.6 973.9 L142.6 973.9 L143.6 973.9 L144.6 973.9 L145.6 974.0 L146.6 974.0 L147.6 974.0 L148.6 974.0 L149.6 974.0 L150.6 974.0 L151.6 974.0 L152.6 974.0 L153.6 974.0 L154.6 974.0 L155.6 974.0 L156.6 974.0 L157.6 974.0 L158.6 974.0 L159.6 974.0 L160.6 974.0 L161.6 973.9 L162.6 973.9 L163.6 973.9 L164.6 973.9 L165.6 973.9 L166.6 973.9 L167.6 973.9 L168.6 973.9 L169.6 973.8 L170.6 973.8 L171.6 973.8 L172.6 973.8 L173.6 973.8 L174.6 973.7 L175.6 973.7 L176.6 973.7 L177.6 973.7 L178.6 973.7 L179.6 973.6 L180.6 973.6 L181.6 973.6 L182.6 973.6 L183.6 973.5 L184.6 973.5 L185.6 973.5 L186.6 973.5 L187.6 973.4 L188.6 973.4 L189.6 973.4 L190.6 973.3 L191.6 973.3 L192.6 973.3 L193.6 973.2 L194.6 973.2 L195.6 973.2 L196.6 973.1 L197.6 973.1 L198.6 973.1 L199.6 973.0 L200.6 973.0 L201.6 972.9 L202.6 972.8 L203.6 972.7 L204.6 972.6 L205.6 972.5 L206.6 972.4 L207.6 972.2 L208.6 972.1 L209.6 971.9 L210.6 971.7 L211.6 971.5 L212.6 971.3 L213.6 971.1 L214.6 970.9 L215.6 970.6 L216.6 970.4 L217.6 970.2 L218.6 969.9 L219.6 969.7 L220.6 969.4 L221.6 969.2 L222.6 968.9 L223.6 968.6 L224.6 968.4 L225.6 968.1 L226.6 967.9 L227.6 967.6 L228.6 967.3 L229.6 967.1 L230.6 966.8 L231.6 966.6 L232.6 966.3 L233.6 966.0 L234.6 965.7 L235.6 965.4 L236.6 965.1 L237.6 964.7 L238.6 964.3 L239.6 963.9 L240.6 963.6 L241.6 963.2 L242.6 962.8 L243.6 962.5 L244.6 962.1 L245.6 961.8 L246.6 961.6 L247.6 961.3 L248.6 961.1 L249.6 960.9 L250.6 960.8 L251.6 960.8 L252.6 960.8 L253.6 960.8 L254.6 960.9 L255.6 961.1 L256.6 961.3 L257.6 961.6 L258.6 961.9 L259.6 962.2 L260.6 962.5 L261.6 962.9 L262.6 963.3 L263.6 963.7 L264.6 964.1 L265.6 964.5 L266.6 964.8 L267.6 965.2 L268.6 965.5 L269.6 965.9 L270.6 966.2 L271.6 966.5 L272.6 966.9 L273.6 967.3 L274.6 967.6 L275.6 968.0 L276.6 968.3 L277.6 968.6 L278.6 968.9 L279.6 969.1 L280.6 969.3 L281.6 969.4 L282.6 969.4 L283.6 969.3 L284.6 969.1 L285.6 968.9 L286.6 968.5 L287.6 968.0 L288.6 967.5 L289.6 966.8 L290.6 966.1 L291.6 965.2 L292.6 964.3 L293.6 963.3 L294.6 962.2 L295.6 961.0 L296.6 959.7 L297.6 958.4 L298.6 956.9 L299.6 955.4 L300.6 953.7 L301.6 952.0 L302.6 950.3 L303.6 948.4 L304.6 946.4 L305.6 944.4 L306.6 942.3 L307.6 940.1 L308.6 937.8 L309.6 935.5 L310.6 933.1 L311.6 930.6 L312.6 928.0 L313.6 925.4 L314.6 922.7 L315.6 919.9 L316.6 917.0 L317.6 914.0 L318.6 910.6 L319.6 906.5 L320.6 901.6 L321.6 895.6 L322.6 888.6 L323.6 881.0 L324.6 872.7 L325.6 863.8 L326.6 854.0 L327.6 843.2 L328.6 831.3 L329.6 818.8 L330.6 806.0 L331.6 793.5 L332.6 781.6 L333.6 770.1 L334.6 759.1 L335.6 748.4 L336.6 738.2 L337.6 728.9 L338.6 720.5 L339.6 713.1 L340.6 706.4 L341.6 700.2 L342.6 694.5 L343.6 689.2 L344.6 684.3 L345.6 679.8 L346.6 675.6 L347.6 671.6 L348.6 667.9 L349.6 664.3 L350.6 660.9 L351.6 657.7 L352.6 655.0 L353.6 653.0 L354.6 651.9 L355.6 652.3 L356.6 654.6 L357.6 658.9 L358.6 665.2 L359.6 673.1 L360.6 682.2 L361.6 691.8 L362.6 701.6 L363.6 711.2 L364.6 720.3 L365.6 729.1 L366.6 737.9 L367.6 747.3 L368.6 757.6 L369.6 769.1 L370.6 781.2 L371.6 792.8 L372.6 802.9 L373.6 811.5 L374.6 818.8 L375.6 825.7 L376.6 832.4 L377.6 838.9 L378.6 845.2 L379.6 851.3 L380.6 857.1 L381.6 862.5 L382.6 867.5 L383.6 872.2 L384.6 876.4 L385.6 880.3 L386.6 884.1 L387.6 887.7 L388.6 891.3 L389.6 894.8 L390.6 898.1 L391.6 901.3 L392.6 904.3 L393.6 907.0 L394.6 909.7 L395.6 912.2 L396.6 914.6 L397.6 916.8 L398.6 918.9 L399.6 920.8 L400.6 922.6 L401.6 924.2 L402.6 925.6 L403.6 927.0 L404.6 928.1 L405.6 929.1 L406.6 930.0 L407.6 930.7 L408.6 931.3 L409.6 931.9 L410.6 932.4 L411.6 932.9 L412.6 933.3 L413.6 933.6 L414.6 933.9 L415.6 934.0 L416.6 934.1 L417.6 934.1 L418.6 934.0 L419.6 933.8 L420.6 933.5 L421.6 933.2 L422.6 932.9 L423.6 932.4 L424.6 931.9 L425.6 931.4 L426.6 930.8 L427.6 930.2 L428.6 929.5 L429.6 928.8 L430.6 928.1 L431.6 927.4 L432.6 926.6 L433.6 925.8 L434.6 924.9 L435.6 923.9 L436.6 922.8 L437.6 921.6 L438.6 920.2 L439.6 918.6 L440.6 917.0 L441.6 915.2 L442.6 913.4 L443.6 911.5 L444.6 909.6 L445.6 907.7 L446.6 906.2"/><path stroke="#2d640a" d="M106.6 970.1 L107.6 970.2 L108.6 970.3 L109.6 970.5 L110.6 970.6 L111.6 970.8 L112.6 970.9 L113.6 971.1 L114.6 971.2 L115.6 971.3 L116.6 971.5 L117.6 971.6 L118.6 971.7 L119.6 971.8 L120.6 971.9 L121.6 972.0 L122.6 972.1 L123.6 972.2 L124.6 972.3 L125.6 972.4 L126.6 972.5 L127.6 972.5 L128.6 972.6 L129.6 972.7 L130.6 972.7 L131.6 972.8 L132.6 972.9 L133.6 972.9 L134.6 973.0 L135.6 973.0 L136.6 973.1 L137.6 973.1 L138.6 973.2 L139.6 973.2 L140.6 973.3 L141.6 973.3 L142.6 973.4 L143.6 973.4 L144.6 973.4 L145.6 973.4 L146.6 973.5 L147.6 973.5 L148.6 973.5 L149.6 973.5 L150.6 973.5 L151.6 973.5 L152.6 973.5 L153.6 973.5 L154.6 973.5 L155.6 973.5 L156.6 973.5 L157.6 973.5 L158.6 973.4 L159.6 973.4 L160.6 973.4 L161.6 973.4 L162.6 973.4 L163.6 973.4 L164.6 973.3 L165.6 973.3 L166.6 973.3 L167.6 973.3 L168.6 973.2 L169.6 973.2 L170.6 973.2 L171.6 973.1 L172.6 973.1 L173.6 973.1 L174.6 973.0 L175.6 973.0 L176.6 972.9 L177.6 972.9 L178.6 972.8 L179.6 972.8 L180.6 972.8 L181.6 972.7 L182.6 972.7 L183.6 972.6 L184.6 972.5 L185.6 972.5 L186.6 972.4 L187.6 972.4 L188.6 972.3 L189.6 972.2 L190.6 972.2 L191.6 972.1 L192.6 972.0 L193.6 972.0 L194.6 971.9 L195.6 971.8 L196.6 971.8 L197.6 971.7 L198.6 971.6 L199.6 971.5 L200.6 971.4 L201.6 971.3 L202.6 971.1 L203.6 970.9 L204.6 970.7 L205.6 970.4 L206.6 970.1 L207.6 969.8 L208.6 969.5 L209.6 969.1 L210.6 968.7 L211.6 968.2 L212.6 967.8 L213.6 967.3 L214.6 966.8 L215.6 966.3 L216.6 965.8 L217.6 965.3 L218.6 964.7 L219.6 964.1 L220.6 963.6 L221.6 963.0 L222.6 962.4 L223.6 961.8 L224.6 961.2 L225.6 960.6 L226.6 959.9 L227.6 959.1 L228.6 958.3 L229.6 957.5 L230.6 956.6 L231.6 955.6 L232.6 954.7 L233.6 953.7 L234.6 952.7 L235.6 951.7 L236.6 950.7 L237.6 949.7 L238.6 948.6 L239.6 947.4 L240.6 946.2 L241.6 945.0 L242.6 944.0 L243.6 943.3 L244.6 942.8 L245.6 942.7 L246.6 942.8 L247.6 943.2 L248.6 943.8 L249.6 944.5 L250.6 945.3 L251.6 946.2 L252.6 947.1 L253.6 948.1 L254.6 949.0 L255.6 949.8 L256.6 950.6 L257.6 951.5 L258.6 952.3 L259.6 953.2 L260.6 954.1 L261.6 955.0 L262.6 955.9 L263.6 956.8 L264.6 957.6 L265.6 958.4 L266.6 959.1 L267.6 959.7 L268.6 960.3 L269.6 960.8 L270.6 961.2 L271.6 961.6 L272.6 961.9 L273.6 962.3 L274.6 962.6 L275.6 962.9 L276.6 963.2 L277.6 963.5 L278.6 963.8 L279.6 964.0 L280.6 964.3 L281.6 964.5 L282.6 964.6 L283.6 964.8 L284.6 964.9 L285.6 965.0 L286.6 965.0 L287.6 965.0 L288.6 964.9 L289.6 964.8 L290.6 964.5 L291.6 964.1 L292.6 963.7 L293.6 963.1 L294.6 962.4 L295.6 961.6 L296.6 960.8 L297.6 959.8 L298.6 958.7 L299.6 957.5 L300.6 956.2 L301.6 954.9 L302.6 953.4 L303.6 951.8 L304.6 950.2 L305.6 948.4 L306.6 946.5 L307.6 944.6 L308.6 942.6 L309.6 940.4 L310.6 938.2 L311.6 935.9 L312.6 933.5 L313.6 931.0 L314.6 928.4 L315.6 925.8 L316.6 923.0 L317.6 920.2 L318.6 917.2 L319.6 914.1 L320.6 910.5 L321.6 906.2 L322.6 900.7 L323.6 894.1 L324.6 886.3 L325.6 877.4 L326.6 867.5 L327.6 856.5 L328.6 844.5 L329.6 831.7 L330.6 818.8 L331.6 805.9 L332.6 793.5 L333.6 781.6 L334.6 770.0 L335.6 758.3 L336.6 746.8 L337.6 735.7 L338.6 725.6 L339.6 716.9 L340.6 709.4 L341.6 702.9 L342.6 696.9 L343.6 691.5 L344.6 686.5 L345.6 681.9 L346.6 677.6 L347.6 673.5 L348.6 669.6 L349.6 665.8 L350.6 662.1 L351.6 658.7 L352.6 655.6 L353.6 653.3 L354.6 652.0 L355.6 652.0 L356.6 653.7 L357.6 657.1 L358.6 662.3 L359.6 668.8 L360.6 676.4 L361.6 684.8 L362.6 693.5 L363.6 702.3 L364.6 710.8 L365.6 719.0 L366.6 726.9 L367.6 734.7 L368.6 742.9 L369.6 751.8 L370.6 761.7 L371.6 772.7 L372.6 784.0 L373.6 794.5 L374.6 803.7 L375.6 811.3 L376.6 817.9 L377.6 824.2 L378.6 830.2 L379.6 836.2 L380.6 842.1 L381.6 847.9 L382.6 853.5 L383.6 858.9 L384.6 864.2 L385.6 869.3 L386.6 874.3 L387.6 878.9 L388.6 883.2 L389.6 887.0 L390.6 890.4 L391.6 893.6 L392.6 896.5 L393.6 899.2 L394.6 901.7 L395.6 903.8 L396.6 905.8 L397.6 907.5 L398.6 909.0 L399.6 910.5 L400.6 911.8 L401.6 913.0 L402.6 914.1 L403.6 915.0 L404.6 915.9 L405.6 916.6 L406.6 917.3 L407.6 917.9 L408.6 918.5 L409.6 919.0 L410.6 919.5 L411.6 919.9 L412.6 920.3 L413.6 920.6 L414.6 920.8 L415.6 920.9 L416.6 920.9 L417.6 920.8 L418.6 920.7 L419.6 920.5 L420.6 920.2 L421.6 919.8 L422.6 919.4 L423.6 919.0 L424.6 918.5 L425.6 918.0 L426.6 917.4 L427.6 916.8 L428.6 916.2 L429.6 915.5 L430.6 914.9 L431.6 914.2 L432.6 913.4 L433.6 912.6 L434.6 911.7 L435.6 910.8 L436.6 909.6 L437.6 908.4 L438.6 907.1 L439.6 905.7 L440.6 904.2 L441.6 902.6 L442.6 900.9 L443.6 899.2 L444.6 897.5 L445.6 895.8 L446.6 894.5"/><path stroke="#8ccd4a" d="M106.6 969.6 L107.6 969.7 L108.6 969.8 L109.6 970.0 L110.6 970.1 L111.6 970.2 L112.6 970.4 L113.6 970.5 L114.6 970.7 L115.6 970.8 L116.6 970.9 L117.6 971.1 L118.6 971.2 L119.6 971.3 L120.6 971.4 L121.6 971.5 L122.6 971.6 L123.6 971.7 L124.6 971.8 L125.6 971.9 L126.6 972.0 L127.6 972.0 L128.6 972.1 L129.6 972.2 L130.6 972.3 L131.6 972.3 L132.6 972.4 L133.6 972.5 L134.6 972.6 L135.6 972.6 L136.6 972.7 L137.6 972.8 L138.6 972.8 L139.6 972.9 L140.6 972.9 L141.6 973.0 L142.6 973.0 L143.6 973.1 L144.6 973.1 L145.6 973.1 L146.6 973.2 L147.6 973.2 L148.6 973.2 L149.6 973.2 L150.6 973.2 L151.6 973.2 L152.6 973.2 L153.6 973.2 L154.6 973.2 L155.6 973.2 L156.6 973.2 L157.6 973.1 L158.6 973.1 L159.6 973.1 L160.6 973.1 L161.6 973.1 L162.6 973.0 L163.6 973.0 L164.6 973.0 L165.6 972.9 L166.6 972.9 L167.6 972.9 L168.6 972.8 L169.6 972.8 L170.6 972.8 L171.6 972.7 L172.6 972.7 L173.6 972.6 L174.6 972.6 L175.6 972.5 L176.6 972.5 L177.6 972.4 L178.6 972.3 L179.6 972.3 L180.6 972.2 L181.6 972.1 L182.6 972.1 L183.6 972.0 L184.6 971.9 L185.6 971.9 L186.6 971.8 L187.6 971.7 L188.6 971.6 L189.6 971.5 L190.6 971.4 L191.6 971.3 L192.6 971.3 L193.6 971.2 L194.6 971.1 L195.6 971.0 L196.6 970.9 L197.6 970.8 L198.6 970.6 L199.6 970.5 L200.6 970.4 L201.6 970.2 L202.6 970.0 L203.6 969.7 L204.6 969.4 L205.6 969.0 L206.6 968.6 L207.6 968.2 L208.6 967.7 L209.6 967.2 L210.6 966.6 L211.6 966.1 L212.6 965.5 L213.6 964.9 L214.6 964.2 L215.6 963.5 L216.6 962.7 L217.6 961.8 L218.6 960.9 L219.6 959.8 L220.6 958.7 L221.6 957.5 L222.6 956.2 L223.6 954.9 L224.6 953.6 L225.6 952.2 L226.6 950.8 L227.6 949.3 L228.6 947.8 L229.6 946.1 L230.6 944.3 L231.6 942.5 L232.6 940.7 L233.6 938.8 L234.6 936.9 L235.6 935.1 L236.6 933.4 L237.6 931.8 L238.6 930.2 L239.6 928.7 L240.6 927.2 L241.6 925.7 L242.6 924.2 L243.6 922.7 L244.6 921.3 L245.6 919.9 L246.6 918.7 L247.6 917.6 L248.6 916.6 L249.6 915.9 L250.6 915.4 L251.6 915.1 L252.6 915.1 L253.6 915.4 L254.6 916.1 L255.6 917.0 L256.6 918.2 L257.6 919.5 L258.6 921.0 L259.6 922.6 L260.6 924.3 L261.6 926.0 L262.6 927.6 L263.6 929.2 L264.6 930.9 L265.6 932.5 L266.6 934.3 L267.6 936.2 L268.6 938.1 L269.6 940.0 L270.6 941.9 L271.6 943.7 L272.6 945.4 L273.6 946.9 L274.6 948.1 L275.6 949.2 L276.6 950.0 L277.6 950.8 L278.6 951.4 L279.6 952.0 L280.6 952.6 L281.6 953.1 L282.6 953.6 L283.6 954.1 L284.6 954.5 L285.6 954.9 L286.6 955.2 L287.6 955.5 L288.6 955.8 L289.6 956.0 L290.6 956.2 L291.6 956.3 L292.6 956.3 L293.6 956.2 L294.6 956.1 L295.6 955.8 L296.6 955.4 L297.6 954.9 L298.6 954.3 L299.6 953.5 L300.6 952.7 L301.6 951.7 L302.6 950.6 L303.6 949.4 L304.6 948.1 L305.6 946.7 L306.6 945.1 L307.6 943.5 L308.6 941.7 L309.6 939.9 L310.6 938.0 L311.6 935.9 L312.6 933.8 L313.6 931.5 L314.6 929.2 L315.6 926.7 L316.6 924.2 L317.6 921.6 L318.6 918.9 L319.6 916.0 L320.6 913.0 L321.6 909.5 L322.6 905.3 L323.6 900.1 L324.6 893.7 L325.6 886.0 L326.6 876.7 L327.6 865.7 L328.6 853.0 L329.6 839.3 L330.6 825.5 L331.6 812.2 L332.6 799.5 L333.6 787.5 L334.6 775.8 L335.6 764.2 L336.6 752.5 L337.6 741.1 L338.6 730.5 L339.6 721.1 L340.6 713.0 L341.6 706.1 L342.6 699.9 L343.6 694.2 L344.6 689.0 L345.6 684.2 L346.6 679.8 L347.6 675.6 L348.6 671.6 L349.6 667.7 L350.6 663.8 L351.6 660.1 L352.6 656.8 L353.6 654.0 L354.6 652.1 L355.6 651.3 L356.6 652.1 L357.6 654.5 L358.6 658.7 L359.6 664.4 L360.6 671.3 L361.6 679.1 L362.6 687.5 L363.6 696.1 L364.6 704.6 L365.6 712.8 L366.6 720.6 L367.6 728.1 L368.6 735.5 L369.6 743.2 L370.6 751.5 L371.6 760.9 L372.6 771.2 L373.6 782.0 L374.6 792.4 L375.6 801.4 L376.6 808.9 L377.6 815.4 L378.6 821.3 L379.6 827.1 L380.6 832.8 L381.6 838.5 L382.6 844.0 L383.6 849.5 L384.6 854.8 L385.6 860.1 L386.6 865.3 L387.6 870.6 L388.6 875.8 L389.6 880.6 L390.6 884.8 L391.6 888.4 L392.6 891.6 L393.6 894.5 L394.6 897.2 L395.6 899.7 L396.6 901.9 L397.6 903.9 L398.6 905.8 L399.6 907.4 L400.6 908.8 L401.6 910.0 L402.6 911.1 L403.6 912.1 L404.6 912.9 L405.6 913.6 L406.6 914.3 L407.6 914.9 L408.6 915.5 L409.6 916.0 L410.6 916.5 L411.6 917.0 L412.6 917.4 L413.6 917.8 L414.6 918.0 L415.6 918.2 L416.6 918.3 L417.6 918.3 L418.6 918.2 L419.6 918.1 L420.6 917.9 L421.6 917.6 L422.6 917.3 L423.6 917.0 L424.6 916.6 L425.6 916.2 L426.6 915.7 L427.6 915.2 L428.6 914.7 L429.6 914.2 L430.6 913.6 L431.6 913.0 L432.6 912.4 L433.6 911.8 L434.6 911.1 L435.6 910.3 L436.6 909.5 L437.6 908.5 L438.6 907.4 L439.6 906.3 L440.6 905.0 L441.6 903.7 L442.6 902.4 L443.6 900.9 L444.6 899.5 L445.6 898.1 L446.6 896.8 L447.5 895.9"/><path stroke="#ffc000" d="M106.6 964.5 L107.6 964.6 L108.6 964.8 L109.6 965.0 L110.6 965.2 L111.6 965.4 L112.6 965.6 L113.6 965.8 L114.6 965.9 L115.6 966.1 L116.6 966.3 L117.6 966.5 L118.6 966.6 L119.6 966.8 L120.6 966.9 L121.6 967.1 L122.6 967.2 L123.6 967.4 L124.6 967.5 L125.6 967.6 L126.6 967.7 L127.6 967.9 L128.6 968.0 L129.6 968.1 L130.6 968.2 L131.6 968.3 L132.6 968.5 L133.6 968.6 L134.6 968.7 L135.6 968.8 L136.6 968.9 L137.6 969.0 L138.6 969.1 L139.6 969.2 L140.6 969.3 L141.6 969.4 L142.6 969.5 L143.6 969.6 L144.6 969.6 L145.6 969.7 L146.6 969.7 L147.6 969.8 L148.6 969.8 L149.6 969.8 L150.6 969.8 L151.6 969.8 L152.6 969.8 L153.6 969.8 L154.6 969.8 L155.6 969.8 L156.6 969.8 L157.6 969.8 L158.6 969.7 L159.6 969.7 L160.6 969.7 L161.6 969.7 L162.6 969.7 L163.6 969.6 L164.6 969.6 L165.6 969.6 L166.6 969.6 L167.6 969.5 L168.6 969.5 L169.6 969.5 L170.6 969.4 L171.6 969.4 L172.6 969.4 L173.6 969.3 L174.6 969.3 L175.6 969.2 L176.6 969.2 L177.6 969.1 L178.6 969.1 L179.6 969.0 L180.6 969.0 L181.6 968.9 L182.6 968.9 L183.6 968.8 L184.6 968.8 L185.6 968.7 L186.6 968.6 L187.6 968.6 L188.6 968.5 L189.6 968.4 L190.6 968.3 L191.6 968.3 L192.6 968.2 L193.6 968.1 L194.6 968.0 L195.6 967.9 L196.6 967.7 L197.6 967.5 L198.6 967.2 L199.6 966.9 L200.6 966.5 L201.6 966.1 L202.6 965.6 L203.6 965.1 L204.6 964.6 L205.6 964.0 L206.6 963.4 L207.6 962.8 L208.6 962.2 L209.6 961.6 L210.6 960.9 L211.6 960.2 L212.6 959.6 L213.6 958.8 L214.6 958.1 L215.6 957.2 L216.6 956.3 L217.6 955.4 L218.6 954.3 L219.6 953.2 L220.6 951.9 L221.6 950.5 L222.6 948.9 L223.6 947.0 L224.6 944.8 L225.6 942.4 L226.6 939.7 L227.6 936.8 L228.6 933.9 L229.6 930.7 L230.6 927.3 L231.6 923.7 L232.6 919.9 L233.6 915.9 L234.6 911.9 L235.6 908.0 L236.6 904.5 L237.6 901.2 L238.6 898.3 L239.6 895.5 L240.6 892.7 L241.6 890.1 L242.6 887.4 L243.6 884.9 L244.6 882.5 L245.6 880.3 L246.6 878.2 L247.6 876.4 L248.6 874.8 L249.6 873.6 L250.6 872.6 L251.6 872.1 L252.6 871.9 L253.6 872.3 L254.6 873.1 L255.6 874.3 L256.6 876.0 L257.6 878.0 L258.6 880.3 L259.6 882.8 L260.6 885.5 L261.6 888.2 L262.6 891.0 L263.6 893.7 L264.6 896.4 L265.6 899.0 L266.6 901.5 L267.6 904.0 L268.6 906.5 L269.6 909.2 L270.6 911.8 L271.6 914.5 L272.6 917.2 L273.6 919.8 L274.6 922.3 L275.6 924.6 L276.6 926.8 L277.6 928.9 L278.6 930.8 L279.6 932.6 L280.6 934.3 L281.6 935.9 L282.6 937.3 L283.6 938.5 L284.6 939.5 L285.6 940.2 L286.6 940.9 L287.6 941.4 L288.6 941.9 L289.6 942.4 L290.6 942.8 L291.6 943.2 L292.6 943.5 L293.6 943.7 L294.6 943.9 L295.6 944.0 L296.6 943.9 L297.6 943.8 L298.6 943.5 L299.6 943.1 L300.6 942.5 L301.6 941.8 L302.6 940.9 L303.6 939.9 L304.6 938.7 L305.6 937.4 L306.6 936.0 L307.6 934.5 L308.6 932.9 L309.6 931.2 L310.6 929.4 L311.6 927.5 L312.6 925.5 L313.6 923.4 L314.6 921.3 L315.6 919.1 L316.6 916.8 L317.6 914.5 L318.6 912.0 L319.6 909.3 L320.6 906.2 L321.6 902.7 L322.6 898.6 L323.6 894.0 L324.6 889.0 L325.6 883.6 L326.6 877.9 L327.6 871.9 L328.6 865.4 L329.6 858.4 L330.6 850.9 L331.6 843.1 L332.6 835.3 L333.6 827.4 L334.6 819.4 L335.6 811.3 L336.6 803.3 L337.6 795.2 L338.6 787.0 L339.6 778.7 L340.6 770.1 L341.6 761.0 L342.6 751.4 L343.6 741.4 L344.6 731.4 L345.6 721.9 L346.6 713.0 L347.6 704.7 L348.6 696.9 L349.6 689.5 L350.6 682.5 L351.6 675.8 L352.6 669.3 L353.6 663.1 L354.6 657.7 L355.6 653.7 L356.6 651.8 L357.6 652.0 L358.6 654.1 L359.6 657.6 L360.6 662.4 L361.6 668.0 L362.6 674.4 L363.6 681.3 L364.6 688.5 L365.6 695.8 L366.6 703.0 L367.6 710.0 L368.6 716.7 L369.6 723.0 L370.6 729.2 L371.6 735.3 L372.6 741.6 L373.6 748.4 L374.6 755.8 L375.6 764.1 L376.6 773.3 L377.6 782.9 L378.6 791.9 L379.6 799.9 L380.6 806.5 L381.6 812.1 L382.6 817.2 L383.6 822.0 L384.6 826.8 L385.6 831.6 L386.6 836.4 L387.6 841.2 L388.6 846.1 L389.6 850.9 L390.6 855.8 L391.6 860.6 L392.6 865.0 L393.6 868.8 L394.6 872.0 L395.6 874.7 L396.6 877.1 L397.6 879.3 L398.6 881.2 L399.6 883.0 L400.6 884.7 L401.6 886.3 L402.6 887.9 L403.6 889.4 L404.6 890.9 L405.6 892.4 L406.6 893.8 L407.6 895.1 L408.6 896.4 L409.6 897.5 L410.6 898.4 L411.6 899.2 L412.6 899.9 L413.6 900.5 L414.6 901.0 L415.6 901.5 L416.6 902.0 L417.6 902.4 L418.6 902.7 L419.6 902.9 L420.6 903.1 L421.6 903.1 L422.6 903.1 L423.6 903.0 L424.6 902.9 L425.6 902.8 L426.6 902.6 L427.6 902.4 L428.6 902.1 L429.6 901.8 L430.6 901.5 L431.6 901.2 L432.6 900.9 L433.6 900.5 L434.6 900.1 L435.6 899.7 L436.6 899.3 L437.6 898.8 L438.6 898.3 L439.6 897.7 L440.6 897.0 L441.6 896.2 L442.6 895.4 L443.6 894.6 L444.6 893.7 L445.6 892.8 L446.6 891.9 L447.6 891.2"/><path stroke="#ff9090" d="M106.6 961.6 L107.6 961.7 L108.6 961.8 L109.6 962.0 L110.6 962.1 L111.6 962.3 L112.6 962.4 L113.6 962.5 L114.6 962.7 L115.6 962.8 L116.6 962.9 L117.6 963.1 L118.6 963.2 L119.6 963.3 L120.6 963.4 L121.6 963.5 L122.6 963.6 L123.6 963.7 L124.6 963.8 L125.6 963.9 L126.6 964.0 L127.6 964.0 L128.6 964.1 L129.6 964.2 L130.6 964.2 L131.6 964.3 L132.6 964.4 L133.6 964.5 L134.6 964.5 L135.6 964.6 L136.6 964.6 L137.6 964.7 L138.6 964.8 L139.6 964.8 L140.6 964.9 L141.6 964.9 L142.6 964.9 L143.6 965.0 L144.6 965.0 L145.6 965.0 L146.6 965.1 L147.6 965.1 L148.6 965.1 L149.6 965.1 L150.6 965.1 L151.6 965.1 L152.6 965.1 L153.6 965.1 L154.6 965.1 L155.6 965.1 L156.6 965.1 L157.6 965.0 L158.6 965.0 L159.6 965.0 L160.6 965.0 L161.6 965.0 L162.6 964.9 L163.6 964.9 L164.6 964.9 L165.6 964.9 L166.6 964.8 L167.6 964.8 L168.6 964.7 L169.6 964.7 L170.6 964.7 L171.6 964.6 L172.6 964.6 L173.6 964.5 L174.6 964.5 L175.6 964.4 L176.6 964.4 L177.6 964.3 L178.6 964.2 L179.6 964.2 L180.6 964.1 L181.6 964.0 L182.6 964.0 L183.6 963.9 L184.6 963.8 L185.6 963.7 L186.6 963.5 L187.6 963.2 L188.6 962.8 L189.6 962.4 L190.6 961.9 L191.6 961.3 L192.6 960.6 L193.6 959.9 L194.6 959.1 L195.6 958.2 L196.6 957.3 L197.6 956.4 L198.6 955.3 L199.6 954.3 L200.6 953.2 L201.6 952.1 L202.6 950.9 L203.6 949.7 L204.6 948.4 L205.6 946.9 L206.6 945.3 L207.6 943.5 L208.6 941.4 L209.6 939.2 L210.6 936.7 L211.6 934.2 L212.6 931.5 L213.6 928.8 L214.6 926.1 L215.6 923.2 L216.6 920.3 L217.6 917.2 L218.6 914.0 L219.6 910.6 L220.6 907.0 L221.6 903.2 L222.6 899.0 L223.6 894.4 L224.6 889.3 L225.6 883.8 L226.6 878.1 L227.6 872.3 L228.6 866.7 L229.6 861.4 L230.6 856.6 L231.6 852.4 L232.6 848.7 L233.6 845.4 L234.6 842.2 L235.6 839.1 L236.6 836.2 L237.6 833.4 L238.6 830.8 L239.6 828.4 L240.6 826.3 L241.6 824.4 L242.6 822.9 L243.6 821.8 L244.6 821.1 L245.6 820.8 L246.6 821.1 L247.6 821.7 L248.6 822.8 L249.6 824.3 L250.6 826.2 L251.6 828.3 L252.6 830.7 L253.6 833.3 L254.6 836.0 L255.6 838.9 L256.6 841.8 L257.6 844.8 L258.6 847.8 L259.6 850.9 L260.6 854.2 L261.6 857.8 L262.6 861.7 L263.6 865.9 L264.6 870.2 L265.6 874.6 L266.6 879.1 L267.6 883.4 L268.6 887.6 L269.6 891.5 L270.6 895.0 L271.6 898.2 L272.6 901.1 L273.6 903.8 L274.6 906.3 L275.6 908.7 L276.6 911.0 L277.6 913.3 L278.6 915.4 L279.6 917.3 L280.6 919.1 L281.6 920.8 L282.6 922.2 L283.6 923.4 L284.6 924.5 L285.6 925.4 L286.6 926.2 L287.6 926.9 L288.6 927.7 L289.6 928.3 L290.6 929.0 L291.6 929.6 L292.6 930.2 L293.6 930.7 L294.6 931.1 L295.6 931.5 L296.6 931.9 L297.6 932.2 L298.6 932.4 L299.6 932.5 L300.6 932.6 L301.6 932.5 L302.6 932.2 L303.6 931.7 L304.6 931.1 L305.6 930.3 L306.6 929.3 L307.6 928.1 L308.6 926.8 L309.6 925.3 L310.6 923.7 L311.6 922.0 L312.6 920.2 L313.6 918.2 L314.6 916.2 L315.6 914.1 L316.6 911.8 L317.6 909.2 L318.6 906.2 L319.6 902.7 L320.6 898.5 L321.6 893.9 L322.6 888.8 L323.6 883.4 L324.6 877.8 L325.6 872.1 L326.6 866.2 L327.6 859.9 L328.6 853.3 L329.6 846.3 L330.6 838.9 L331.6 831.0 L332.6 822.6 L333.6 813.1 L334.6 802.1 L335.6 788.8 L336.6 772.6 L337.6 753.9 L338.6 734.7 L339.6 717.6 L340.6 703.9 L341.6 693.5 L342.6 685.3 L343.6 678.5 L344.6 672.5 L345.6 667.1 L346.6 662.1 L347.6 657.3 L348.6 653.0 L349.6 649.2 L350.6 646.1 L351.6 644.0 L352.6 643.0 L353.6 643.1 L354.6 644.3 L355.6 646.6 L356.6 649.7 L357.6 653.5 L358.6 657.9 L359.6 662.8 L360.6 668.1 L361.6 674.2 L362.6 681.2 L363.6 689.2 L364.6 697.8 L365.6 706.6 L366.6 715.1 L367.6 723.0 L368.6 730.5 L369.6 737.7 L370.6 745.0 L371.6 752.9 L372.6 761.9 L373.6 771.8 L374.6 782.3 L375.6 792.2 L376.6 801.0 L377.6 808.2 L378.6 814.5 L379.6 820.1 L380.6 825.6 L381.6 831.0 L382.6 836.4 L383.6 841.8 L384.6 847.4 L385.6 853.2 L386.6 859.0 L387.6 864.4 L388.6 869.2 L389.6 873.1 L390.6 876.4 L391.6 879.2 L392.6 881.7 L393.6 884.0 L394.6 886.0 L395.6 887.9 L396.6 889.7 L397.6 891.3 L398.6 892.8 L399.6 894.3 L400.6 895.7 L401.6 897.1 L402.6 898.4 L403.6 899.6 L404.6 900.7 L405.6 901.8 L406.6 902.7 L407.6 903.6 L408.6 904.3 L409.6 905.0 L410.6 905.6 L411.6 906.2 L412.6 906.7 L413.6 907.2 L414.6 907.7 L415.6 908.1 L416.6 908.4 L417.6 908.7 L418.6 908.8 L419.6 908.9 L420.6 908.9 L421.6 908.7 L422.6 908.5 L423.6 908.3 L424.6 907.9 L425.6 907.5 L426.6 907.1 L427.6 906.6 L428.6 906.1 L429.6 905.5 L430.6 904.9 L431.6 904.3 L432.6 903.6 L433.6 902.9 L434.6 902.2 L435.6 901.4 L436.6 900.5 L437.6 899.4 L438.6 898.3 L439.6 897.0 L440.6 895.6 L441.6 894.1 L442.6 892.6 L443.6 890.9 L444.6 889.3 L445.6 887.7 L446.6 886.5"/><path stroke="#c00000" d="M106.6 960.8 L107.6 960.9 L108.6 961.1 L109.6 961.3 L110.6 961.5 L111.6 961.7 L112.6 961.9 L113.6 962.1 L114.6 962.3 L115.6 962.5 L116.6 962.6 L117.6 962.8 L118.6 963.0 L119.6 963.2 L120.6 963.4 L121.6 963.5 L122.6 963.7 L123.6 963.9 L124.6 964.0 L125.6 964.2 L126.6 964.3 L127.6 964.5 L128.6 964.7 L129.6 964.8 L130.6 965.0 L131.6 965.2 L132.6 965.3 L133.6 965.5 L134.6 965.7 L135.6 965.9 L136.6 966.0 L137.6 966.2 L138.6 966.3 L139.6 966.5 L140.6 966.6 L141.6 966.8 L142.6 966.9 L143.6 967.0 L144.6 967.1 L145.6 967.2 L146.6 967.3 L147.6 967.3 L148.6 967.4 L149.6 967.4 L150.6 967.4 L151.6 967.4 L152.6 967.4 L153.6 967.3 L154.6 967.3 L155.6 967.3 L156.6 967.2 L157.6 967.2 L158.6 967.1 L159.6 967.0 L160.6 967.0 L161.6 966.9 L162.6 966.8 L163.6 966.7 L164.6 966.6 L165.6 966.4 L166.6 966.3 L167.6 966.2 L168.6 966.1 L169.6 965.9 L170.6 965.8 L171.6 965.6 L172.6 965.4 L173.6 965.2 L174.6 965.0 L175.6 964.7 L176.6 964.3 L177.6 963.7 L178.6 963.0 L179.6 962.2 L180.6 961.2 L181.6 960.2 L182.6 959.0 L183.6 957.8 L184.6 956.5 L185.6 955.2 L186.6 953.8 L187.6 952.5 L188.6 951.1 L189.6 949.7 L190.6 948.2 L191.6 946.7 L192.6 945.2 L193.6 943.5 L194.6 941.7 L195.6 939.8 L196.6 937.9 L197.6 935.7 L198.6 933.5 L199.6 931.0 L200.6 928.4 L201.6 925.4 L202.6 922.2 L203.6 918.7 L204.6 914.9 L205.6 910.9 L206.6 906.6 L207.6 902.0 L208.6 897.2 L209.6 892.1 L210.6 886.6 L211.6 880.7 L212.6 874.5 L213.6 867.8 L214.6 860.7 L215.6 853.1 L216.6 844.8 L217.6 835.8 L218.6 826.1 L219.6 816.2 L220.6 806.3 L221.6 796.6 L222.6 787.3 L223.6 778.2 L224.6 769.2 L225.6 760.3 L226.6 751.6 L227.6 743.1 L228.6 734.7 L229.6 726.5 L230.6 718.3 L231.6 710.1 L232.6 701.9 L233.6 693.7 L234.6 685.7 L235.6 677.9 L236.6 670.7 L237.6 664.0 L238.6 658.1 L239.6 653.0 L240.6 648.4 L241.6 644.4 L242.6 640.7 L243.6 637.3 L244.6 634.3 L245.6 631.9 L246.6 630.2 L247.6 629.2 L248.6 629.2 L249.6 630.0 L250.6 631.7 L251.6 634.2 L252.6 637.2 L253.6 640.6 L254.6 644.3 L255.6 648.3 L256.6 652.7 L257.6 657.6 L258.6 663.2 L259.6 669.3 L260.6 675.9 L261.6 683.0 L262.6 690.3 L263.6 697.7 L264.6 705.2 L265.6 712.6 L266.6 720.0 L267.6 727.4 L268.6 735.0 L269.6 742.6 L270.6 750.4 L271.6 758.2 L272.6 766.0 L273.6 773.6 L274.6 780.9 L275.6 788.0 L276.6 794.6 L277.6 800.8 L278.6 806.8 L279.6 812.5 L280.6 818.1 L281.6 823.4 L282.6 828.5 L283.6 833.4 L284.6 838.0 L285.6 842.3 L286.6 846.3 L287.6 850.1 L288.6 853.7 L289.6 857.1 L290.6 860.4 L291.6 863.5 L292.6 866.3 L293.6 868.9 L294.6 871.2 L295.6 873.2 L296.6 874.9 L297.6 876.4 L298.6 877.8 L299.6 879.1 L300.6 880.2 L301.6 881.3 L302.6 882.2 L303.6 883.0 L304.6 883.6 L305.6 884.0 L306.6 884.2 L307.6 884.2 L308.6 883.9 L309.6 883.4 L310.6 882.7 L311.6 881.8 L312.6 880.8 L313.6 879.6 L314.6 878.2 L315.6 876.7 L316.6 875.1 L317.6 873.5 L318.6 871.6 L319.6 869.6 L320.6 867.2 L321.6 864.4 L322.6 861.1 L323.6 857.3 L324.6 853.2 L325.6 848.8 L326.6 844.2 L327.6 839.4 L328.6 834.5 L329.6 829.2 L330.6 823.4 L331.6 816.7 L332.6 808.6 L333.6 798.2 L334.6 784.2 L335.6 765.7 L336.6 744.3 L337.6 723.6 L338.6 706.9 L339.6 695.0 L340.6 686.4 L341.6 679.9 L342.6 674.5 L343.6 669.7 L344.6 665.2 L345.6 660.8 L346.6 656.7 L347.6 652.9 L348.6 649.5 L349.6 646.6 L350.6 644.4 L351.6 642.9 L352.6 642.5 L353.6 643.2 L354.6 645.4 L355.6 648.9 L356.6 653.6 L357.6 659.0 L358.6 665.0 L359.6 671.5 L360.6 678.6 L361.6 686.3 L362.6 694.7 L363.6 703.4 L364.6 712.1 L365.6 720.5 L366.6 728.7 L367.6 736.8 L368.6 745.2 L369.6 754.4 L370.6 764.7 L371.6 776.0 L372.6 787.3 L373.6 797.5 L374.6 806.3 L375.6 813.6 L376.6 820.1 L377.6 826.3 L378.6 832.3 L379.6 838.4 L380.6 844.7 L381.6 851.5 L382.6 858.4 L383.6 864.7 L384.6 869.8 L385.6 873.6 L386.6 876.3 L387.6 878.6 L388.6 880.8 L389.6 883.3 L390.6 886.3 L391.6 889.7 L392.6 893.6 L393.6 897.5 L394.6 901.4 L395.6 904.8 L396.6 907.7 L397.6 910.0 L398.6 911.8 L399.6 913.3 L400.6 914.6 L401.6 915.8 L402.6 916.8 L403.6 917.6 L404.6 918.4 L405.6 919.1 L406.6 919.7 L407.6 920.3 L408.6 920.9 L409.6 921.4 L410.6 921.8 L411.6 922.2 L412.6 922.5 L413.6 922.8 L414.6 922.9 L415.6 923.0 L416.6 922.9 L417.6 922.8 L418.6 922.5 L419.6 922.2 L420.6 921.8 L421.6 921.4 L422.6 920.8 L423.6 920.2 L424.6 919.6 L425.6 918.8 L426.6 918.1 L427.6 917.3 L428.6 916.5 L429.6 915.6 L430.6 914.7 L431.6 913.8 L432.6 912.8 L433.6 911.8 L434.6 910.6 L435.6 909.3 L436.6 907.8 L437.6 906.2 L438.6 904.4 L439.6 902.6 L440.6 900.6 L441.6 898.5 L442.6 896.3 L443.6 894.1 L444.6 891.8 L445.6 889.7 L446.6 888.0"/><path stroke="#ff0a6e" d="M106.6 956.3 L107.6 956.4 L108.6 956.6 L109.6 956.8 L110.6 957.0 L111.6 957.2 L112.6 957.4 L113.6 957.5 L114.6 957.7 L115.6 957.9 L116.6 958.1 L117.6 958.2 L118.6 958.4 L119.6 958.6 L120.6 958.7 L121.6 958.9 L122.6 959.0 L123.6 959.1 L124.6 959.3 L125.6 959.4 L126.6 959.5 L127.6 959.7 L128.6 959.8 L129.6 959.9 L130.6 960.1 L131.6 960.2 L132.6 960.3 L133.6 960.4 L134.6 960.6 L135.6 960.7 L136.6 960.8 L137.6 960.9 L138.6 961.1 L139.6 961.2 L140.6 961.3 L141.6 961.4 L142.6 961.5 L143.6 961.5 L144.6 961.6 L145.6 961.7 L146.6 961.7 L147.6 961.7 L148.6 961.8 L149.6 961.8 L150.6 961.8 L151.6 961.8 L152.6 961.8 L153.6 961.8 L154.6 961.7 L155.6 961.7 L156.6 961.7 L157.6 961.7 L158.6 961.6 L159.6 961.6 L160.6 961.5 L161.6 961.5 L162.6 961.4 L163.6 961.4 L164.6 961.3 L165.6 961.2 L166.6 961.1 L167.6 961.0 L168.6 961.0 L169.6 960.9 L170.6 960.8 L171.6 960.7 L172.6 960.5 L173.6 960.4 L174.6 960.3 L175.6 960.2 L176.6 960.0 L177.6 959.7 L178.6 959.3 L179.6 958.8 L180.6 958.2 L181.6 957.4 L182.6 956.5 L183.6 955.4 L184.6 954.4 L185.6 953.2 L186.6 952.1 L187.6 950.9 L188.6 949.7 L189.6 948.5 L190.6 947.3 L191.6 946.1 L192.6 944.9 L193.6 943.6 L194.6 942.3 L195.6 940.9 L196.6 939.5 L197.6 938.0 L198.6 936.3 L199.6 934.6 L200.6 932.7 L201.6 930.6 L202.6 928.3 L203.6 925.8 L204.6 923.0 L205.6 919.8 L206.6 916.4 L207.6 912.8 L208.6 908.9 L209.6 904.9 L210.6 900.6 L211.6 895.9 L212.6 891.0 L213.6 885.7 L214.6 880.0 L215.6 874.0 L216.6 867.8 L217.6 861.2 L218.6 854.4 L219.6 847.3 L220.6 839.7 L221.6 831.8 L222.6 823.6 L223.6 815.3 L224.6 807.3 L225.6 799.5 L226.6 791.8 L227.6 784.2 L228.6 776.6 L229.6 769.1 L230.6 761.6 L231.6 754.4 L232.6 747.6 L233.6 741.2 L234.6 735.3 L235.6 730.2 L236.6 725.7 L237.6 721.9 L238.6 718.7 L239.6 715.9 L240.6 713.4 L241.6 711.1 L242.6 709.1 L243.6 707.5 L244.6 706.2 L245.6 705.5 L246.6 705.4 L247.6 705.7 L248.6 706.6 L249.6 707.9 L250.6 709.6 L251.6 711.7 L252.6 714.0 L253.6 716.5 L254.6 719.4 L255.6 722.7 L256.6 726.8 L257.6 731.6 L258.6 737.1 L259.6 743.3 L260.6 750.0 L261.6 757.1 L262.6 764.3 L263.6 771.6 L264.6 778.7 L265.6 785.5 L266.6 791.9 L267.6 797.9 L268.6 803.5 L269.6 808.8 L270.6 814.0 L271.6 819.1 L272.6 824.0 L273.6 828.8 L274.6 833.4 L275.6 837.8 L276.6 841.9 L277.6 845.8 L278.6 849.4 L279.6 852.9 L280.6 856.1 L281.6 859.3 L282.6 862.4 L283.6 865.3 L284.6 868.1 L285.6 870.8 L286.6 873.2 L287.6 875.5 L288.6 877.6 L289.6 879.5 L290.6 881.2 L291.6 882.8 L292.6 884.2 L293.6 885.6 L294.6 887.0 L295.6 888.3 L296.6 889.6 L297.6 890.8 L298.6 892.0 L299.6 893.1 L300.6 894.1 L301.6 895.0 L302.6 895.8 L303.6 896.6 L304.6 897.2 L305.6 897.7 L306.6 898.0 L307.6 898.2 L308.6 898.2 L309.6 898.0 L310.6 897.4 L311.6 896.6 L312.6 895.4 L313.6 894.0 L314.6 892.3 L315.6 890.4 L316.6 888.3 L317.6 886.1 L318.6 883.7 L319.6 881.1 L320.6 878.5 L321.6 875.8 L322.6 872.9 L323.6 870.0 L324.6 866.7 L325.6 863.0 L326.6 858.9 L327.6 854.5 L328.6 849.6 L329.6 844.6 L330.6 839.2 L331.6 833.7 L332.6 827.8 L333.6 821.4 L334.6 814.3 L335.6 806.3 L336.6 797.1 L337.6 786.2 L338.6 773.6 L339.6 759.3 L340.6 744.1 L341.6 729.4 L342.6 716.5 L343.6 705.7 L344.6 696.7 L345.6 689.1 L346.6 682.6 L347.6 677.0 L348.6 672.3 L349.6 668.2 L350.6 664.6 L351.6 661.3 L352.6 658.2 L353.6 655.5 L354.6 653.2 L355.6 651.3 L356.6 650.0 L357.6 649.4 L358.6 649.8 L359.6 651.3 L360.6 654.0 L361.6 657.9 L362.6 662.9 L363.6 668.8 L364.6 675.3 L365.6 682.3 L366.6 689.5 L367.6 696.8 L368.6 703.9 L369.6 710.7 L370.6 717.0 L371.6 723.0 L372.6 728.6 L373.6 734.1 L374.6 739.6 L375.6 745.3 L376.6 751.5 L377.6 758.4 L378.6 766.1 L379.6 774.6 L380.6 783.4 L381.6 791.7 L382.6 799.0 L383.6 805.1 L384.6 810.2 L385.6 814.8 L386.6 819.1 L387.6 823.4 L388.6 827.7 L389.6 832.0 L390.6 836.3 L391.6 840.6 L392.6 845.0 L393.6 849.5 L394.6 854.2 L395.6 858.9 L396.6 863.4 L397.6 867.3 L398.6 870.5 L399.6 873.0 L400.6 875.2 L401.6 877.0 L402.6 878.6 L403.6 880.1 L404.6 881.4 L405.6 882.6 L406.6 883.6 L407.6 884.6 L408.6 885.5 L409.6 886.3 L410.6 887.2 L411.6 888.0 L412.6 888.7 L413.6 889.4 L414.6 890.1 L415.6 890.7 L416.6 891.1 L417.6 891.5 L418.6 891.8 L419.6 891.9 L420.6 892.0 L421.6 892.0 L422.6 891.9 L423.6 891.8 L424.6 891.6 L425.6 891.4 L426.6 891.1 L427.6 890.8 L428.6 890.5 L429.6 890.2 L430.6 889.8 L431.6 889.4 L432.6 889.0 L433.6 888.6 L434.6 888.2 L435.6 887.7 L436.6 887.1 L437.6 886.4 L438.6 885.7 L439.6 884.9 L440.6 884.0 L441.6 883.1 L442.6 882.1 L443.6 881.2 L444.6 880.3 L445.6 879.5"/><path stroke="#ff0000" d="M106.6 969.0 L107.6 969.1 L108.6 969.3 L109.6 969.5 L110.6 969.7 L111.6 969.9 L112.6 970.1 L113.6 970.2 L114.6 970.4 L115.6 970.6 L116.6 970.7 L117.6 970.9 L118.6 971.0 L119.6 971.2 L120.6 971.3 L121.6 971.4 L122.6 971.5 L123.6 971.6 L124.6 971.7 L125.6 971.8 L126.6 971.9 L127.6 971.9 L128.6 972.0 L129.6 972.0 L130.6 972.1 L131.6 972.1 L132.6 972.2 L133.6 972.2 L134.6 972.3 L135.6 972.3 L136.6 972.3 L137.6 972.4 L138.6 972.4 L139.6 972.4 L140.6 972.5 L141.6 972.5 L142.6 972.5 L143.6 972.5 L144.6 972.5 L145.6 972.6 L146.6 972.6 L147.6 972.6 L148.6 972.6 L149.6 972.6 L150.6 972.6 L151.6 972.6 L152.6 972.6 L153.6 972.6 L154.6 972.6 L155.6 972.6 L156.6 972.5 L157.6 972.5 L158.6 972.5 L159.6 972.5 L160.6 972.5 L161.6 972.4 L162.6 972.4 L163.6 972.4 L164.6 972.3 L165.6 972.3 L166.6 972.3 L167.6 972.2 L168.6 972.2 L169.6 972.1 L170.6 972.1 L171.6 972.0 L172.6 972.0 L173.6 971.9 L174.6 971.8 L175.6 971.8 L176.6 971.7 L177.6 971.6 L178.6 971.6 L179.6 971.5 L180.6 971.4 L181.6 971.3 L182.6 971.2 L183.6 971.1 L184.6 971.0 L185.6 970.8 L186.6 970.4 L187.6 970.0 L188.6 969.3 L189.6 968.6 L190.6 967.7 L191.6 966.6 L192.6 965.5 L193.6 964.2 L194.6 962.9 L195.6 961.5 L196.6 960.0 L197.6 958.4 L198.6 956.8 L199.6 955.2 L200.6 953.5 L201.6 951.8 L202.6 950.0 L203.6 948.1 L204.6 946.1 L205.6 943.8 L206.6 941.4 L207.6 938.8 L208.6 936.0 L209.6 933.1 L210.6 930.2 L211.6 927.0 L212.6 923.7 L213.6 920.2 L214.6 916.6 L215.6 912.7 L216.6 908.7 L217.6 904.5 L218.6 900.2 L219.6 895.6 L220.6 890.8 L221.6 885.7 L222.6 880.4 L223.6 875.0 L224.6 869.5 L225.6 863.9 L226.6 858.3 L227.6 852.7 L228.6 846.9 L229.6 841.0 L230.6 834.9 L231.6 828.8 L232.6 822.7 L233.6 816.9 L234.6 811.5 L235.6 806.8 L236.6 802.7 L237.6 799.3 L238.6 796.3 L239.6 793.6 L240.6 791.0 L241.6 788.7 L242.6 786.7 L243.6 785.0 L244.6 783.6 L245.6 782.7 L246.6 782.2 L247.6 782.3 L248.6 782.8 L249.6 783.8 L250.6 785.3 L251.6 787.0 L252.6 789.1 L253.6 791.4 L254.6 793.9 L255.6 796.6 L256.6 799.6 L257.6 803.0 L258.6 806.9 L259.6 811.4 L260.6 816.5 L261.6 822.0 L262.6 827.7 L263.6 833.5 L264.6 839.1 L265.6 844.6 L266.6 849.7 L267.6 854.7 L268.6 859.5 L269.6 864.3 L270.6 869.1 L271.6 873.8 L272.6 878.3 L273.6 882.7 L274.6 886.9 L275.6 890.8 L276.6 894.5 L277.6 897.9 L278.6 901.0 L279.6 903.9 L280.6 906.7 L281.6 909.4 L282.6 911.9 L283.6 914.2 L284.6 916.4 L285.6 918.2 L286.6 919.9 L287.6 921.3 L288.6 922.5 L289.6 923.6 L290.6 924.6 L291.6 925.6 L292.6 926.4 L293.6 927.3 L294.6 928.1 L295.6 928.8 L296.6 929.4 L297.6 929.9 L298.6 930.3 L299.6 930.6 L300.6 930.8 L301.6 930.8 L302.6 930.6 L303.6 930.2 L304.6 929.6 L305.6 928.7 L306.6 927.7 L307.6 926.4 L308.6 925.0 L309.6 923.5 L310.6 921.8 L311.6 920.0 L312.6 918.1 L313.6 916.1 L314.6 914.1 L315.6 912.0 L316.6 909.8 L317.6 907.4 L318.6 904.8 L319.6 901.9 L320.6 898.7 L321.6 895.2 L322.6 891.3 L323.6 887.2 L324.6 882.7 L325.6 877.8 L326.6 872.4 L327.6 866.3 L328.6 859.4 L329.6 851.7 L330.6 843.7 L331.6 835.6 L332.6 827.4 L333.6 818.5 L334.6 808.2 L335.6 795.1 L336.6 778.8 L337.6 759.6 L338.6 739.3 L339.6 720.5 L340.6 704.8 L341.6 692.1 L342.6 682.1 L343.6 674.1 L344.6 667.4 L345.6 661.7 L346.6 656.7 L347.6 652.2 L348.6 648.3 L349.6 645.1 L350.6 642.8 L351.6 641.4 L352.6 641.0 L353.6 641.7 L354.6 643.3 L355.6 645.7 L356.6 648.9 L357.6 652.6 L358.6 656.8 L359.6 661.4 L360.6 666.5 L361.6 672.2 L362.6 678.8 L363.6 686.5 L364.6 695.0 L365.6 703.7 L366.6 712.3 L367.6 720.4 L368.6 727.9 L369.6 735.0 L370.6 742.1 L371.6 749.5 L372.6 757.8 L373.6 767.1 L374.6 777.2 L375.6 787.4 L376.6 796.7 L377.6 804.5 L378.6 811.1 L379.6 816.9 L380.6 822.3 L381.6 827.6 L382.6 832.8 L383.6 838.1 L384.6 843.5 L385.6 849.0 L386.6 854.7 L387.6 860.3 L388.6 865.6 L389.6 870.4 L390.6 874.4 L391.6 878.0 L392.6 881.1 L393.6 884.0 L394.6 886.6 L395.6 889.0 L396.6 891.3 L397.6 893.5 L398.6 895.7 L399.6 897.9 L400.6 900.0 L401.6 901.9 L402.6 903.8 L403.6 905.4 L404.6 906.9 L405.6 908.0 L406.6 908.9 L407.6 909.5 L408.6 909.8 L409.6 909.9 L410.6 909.9 L411.6 909.8 L412.6 909.6 L413.6 909.5 L414.6 909.3 L415.6 909.1 L416.6 908.8 L417.6 908.6 L418.6 908.3 L419.6 908.0 L420.6 907.7 L421.6 907.4 L422.6 907.0 L423.6 906.6 L424.6 906.1 L425.6 905.5 L426.6 905.0 L427.6 904.3 L428.6 903.6 L429.6 902.9 L430.6 902.1 L431.6 901.3 L432.6 900.4 L433.6 899.5 L434.6 898.5 L435.6 897.5 L436.6 896.4 L437.6 895.3 L438.6 894.2 L439.6 893.1 L440.6 891.8 L441.6 890.6 L442.6 889.3 L443.6 888.0 L444.6 886.8 L445.6 885.5 L446.6 884.5"/></g>
<g stroke="#000" stroke-width="2" fill="none"><path d="M467.3 579V854.5M460.4 847.7H660.4"/><path d="M460.4 847.7H467.3"/><path d="M460.4 794.1H467.3"/><path d="M460.4 740.5H467.3"/><path d="M460.4 686.9H467.3"/><path d="M460.4 633.3H467.3"/><path d="M460.4 579.7H467.3"/><path d="M515.6 847.7V854"/><path d="M563.9 847.7V854"/><path d="M612.1 847.7V854"/><path d="M660.4 847.7V854"/></g>
<g font-family="Liberation Serif, serif" font-weight="bold" fill="#000" font-size="23"><text x="446.6" y="855.3" text-anchor="end">0</text><text x="446.6" y="801.7" text-anchor="end">3</text><text x="446.6" y="748.1" text-anchor="end">6</text><text x="446.6" y="694.5" text-anchor="end">9</text><text x="446.6" y="640.9" text-anchor="end">12</text><text x="446.6" y="587.3" text-anchor="end">15</text><text x="467.4" y="883.3" text-anchor="middle">0</text><text x="515.6" y="883.3" text-anchor="middle">50</text><text x="563.9" y="883.3" text-anchor="middle">100</text><text x="612.1" y="883.3" text-anchor="middle">150</text><text x="660.4" y="883.3" text-anchor="middle">200</text></g>
<path d="M489.5 847.7L602.5 654.8" stroke="#e8b890" stroke-width="1" fill="none"/>
<g stroke="#3a3a3a" stroke-width="1.5" fill="none"><path d="M486.5 830.2V848.2M484.8 830.2H488.2M484.8 848.2H488.2"/><path d="M505.8 809.0V829.0M504.1 809.0H507.5M504.1 829.0H507.5"/><path d="M515.5 798.5V818.5M513.8 798.5H517.2M513.8 818.5H517.2"/><path d="M525.2 781.0V803.0M523.5 781.0H526.9M523.5 803.0H526.9"/><path d="M544.5 751.1V771.1M542.8 751.1H546.2M542.8 771.1H546.2"/><path d="M563.8 711.5V733.5M562.1 711.5H565.5M562.1 733.5H565.5"/><path d="M583.2 676.4V698.4M581.5 676.4H584.9M581.5 698.4H584.9"/><path d="M602.6 633.6V655.6M600.9 633.6H604.3M600.9 655.6H604.3"/></g>
<circle cx="486.5" cy="839.2" r="6.2" fill="url(#gr)"/><circle cx="505.8" cy="819.0" r="6.2" fill="url(#gr)"/><circle cx="515.5" cy="808.5" r="6.2" fill="url(#gr)"/><circle cx="525.2" cy="792.0" r="6.2" fill="url(#gr)"/><circle cx="544.5" cy="761.1" r="6.2" fill="url(#gr)"/><circle cx="563.8" cy="722.5" r="6.2" fill="url(#gr)"/><circle cx="583.2" cy="687.4" r="6.2" fill="url(#gr)"/><circle cx="602.6" cy="644.6" r="6.2" fill="url(#gr)"/>
<path d="M489.5 847.7L602.5 654.8" stroke="#111" stroke-width="1.5" stroke-dasharray="3.5 2.5" fill="none"/>
<text font-family="Liberation Serif, serif" font-weight="bold" fill="#000" font-size="14.5" x="540.3" y="800.6" textLength="140" lengthAdjust="spacingAndGlyphs">y = 0.0922x - 2.1113</text>
<text font-family="Liberation Serif, serif" font-weight="bold" fill="#000" font-size="14" x="570.8" y="818.2" textLength="80" lengthAdjust="spacingAndGlyphs">R² = 0.9883</text>
<text font-family="Liberation Serif, serif" font-weight="bold" fill="#000" font-size="21.5" transform="translate(414.7 788.6) rotate(-90)" textLength="149" lengthAdjust="spacingAndGlyphs">Δ Current / µA</text>
<text font-family="Liberation Serif, serif" font-weight="bold" fill="#000" font-size="22" x="521.8" y="905.4">C</text>
<text font-family="Liberation Serif, serif" font-weight="bold" fill="#000" font-size="12.8" x="538.7" y="910.2" textLength="29.5" lengthAdjust="spacingAndGlyphs">PAR</text>
<text font-family="Liberation Serif, serif" font-weight="bold" fill="#000" font-size="22" x="568.8" y="905.4">/</text>
<text font-family="Liberation Serif, serif" font-weight="bold" fill="#000" font-size="22" x="584" y="905.4">µM</text>
</svg>
</body></html>
